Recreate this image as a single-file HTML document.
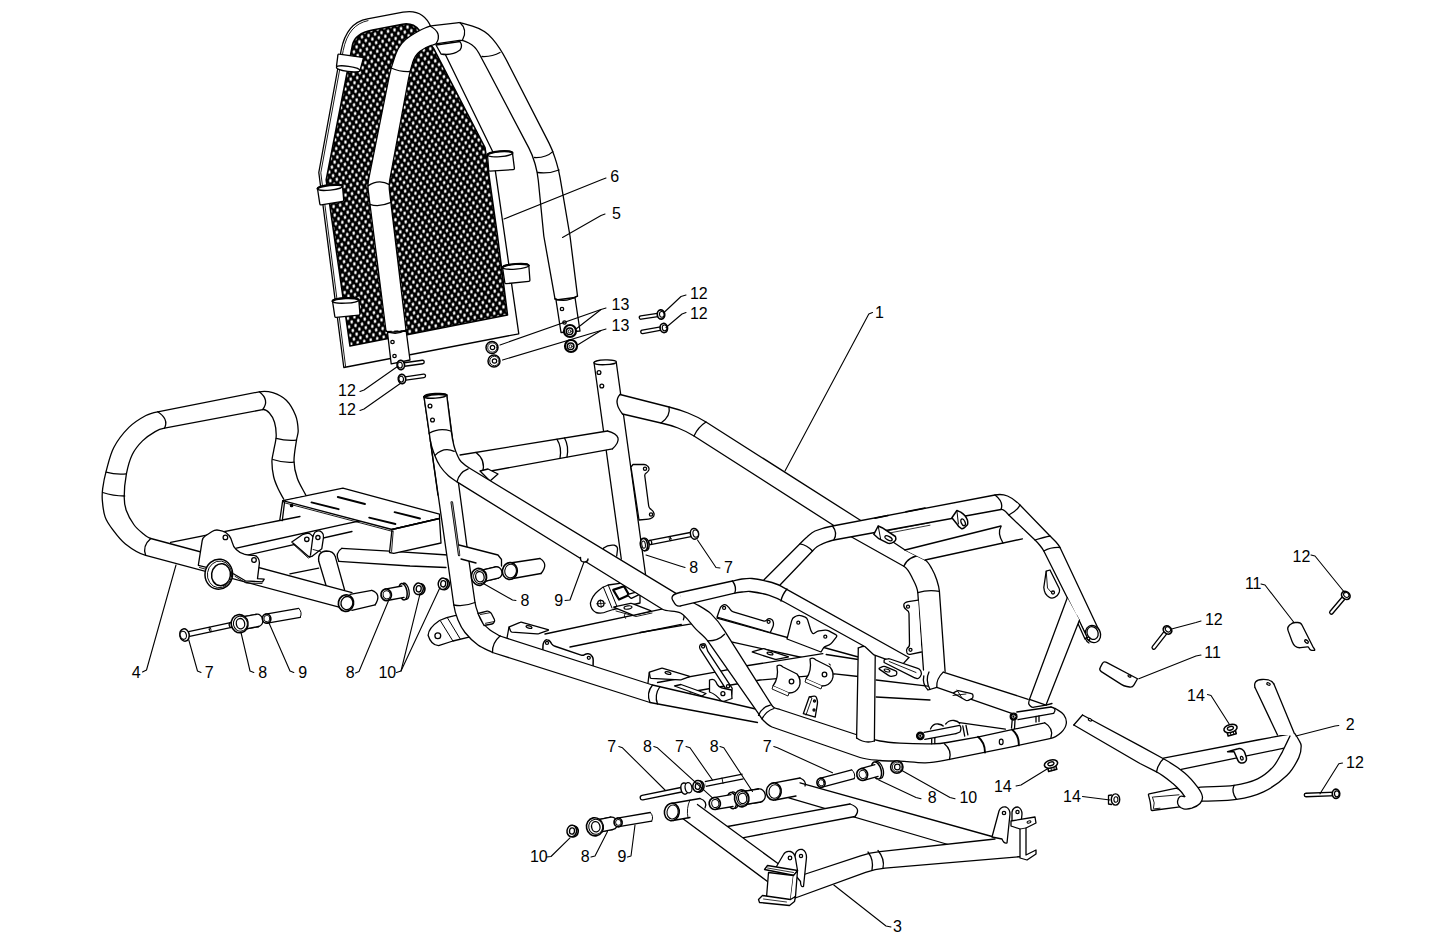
<!DOCTYPE html>
<html><head><meta charset="utf-8"><title>Frame assembly</title>
<style>html,body{margin:0;padding:0;background:#fff;font-family:"Liberation Sans",sans-serif}svg{display:block}</style>
</head><body>
<svg width="1445" height="945" viewBox="0 0 1445 945" stroke="#000" stroke-linecap="round" stroke-linejoin="round">
<defs>
<pattern id="mesh" width="1" height="1" patternUnits="userSpaceOnUse" patternTransform="matrix(3.8 3.6 2.7 -5 0 0)"><rect x="-0.1" y="-0.1" width="1.2" height="1.2" fill="#000" stroke="none"/><circle cx="0.5" cy="0.5" r="0.28" fill="#fff" stroke="none"/></pattern>
</defs>
<rect x="0" y="0" width="1445" height="945" fill="#fff" stroke="none"/>
<g id="rear">
<path d="M246.4,555.3L352,531.5" fill="none" stroke-width="1.3" />
<path d="M289.9,573.8L318.7,568.2" fill="none" stroke-width="1.3" />
<path d="M170.6,542.4L279.7,520.5L300,516.5 L392,514L340,525.2L236.5,548.1 Z" fill="#fff" stroke="none"/>
<path d="M170.6,542.4L279.7,520.5L300,516.5" fill="none" stroke-width="1.3"/>
<path d="M236.5,548.1L340,525.2L392,514" fill="none" stroke-width="1.3"/>
<path d="M341.9,548.3L389.5,551.1L448,555 L446,567.5L410,566L338.8,561.3 Z" fill="#fff" stroke="none"/>
<path d="M341.9,548.3L389.5,551.1L448,555" fill="none" stroke-width="1.3"/>
<path d="M338.8,561.3L410,566L446,567.5" fill="none" stroke-width="1.3"/>
<path d="M341.9,548.3Q334.5,553 338.8,561.3" fill="#fff" stroke-width="1.3" />
<path d="M318.7,561L326.5,587 L344.6,590L335.3,556.6 Z" fill="#fff" stroke="none"/>
<path d="M318.7,561L326.5,587" fill="none" stroke-width="1.3"/>
<path d="M335.3,556.6L344.6,590" fill="none" stroke-width="1.3"/>
<path d="M318.7,561Q317.5,551.5 326.5,551Q333.5,551 335.3,556.6" fill="#fff" stroke-width="1.3" />
<path d="M282.7,500.7L342.9,488.2L439.5,514.2L439.5,518.5L392,529.5L282.7,500.7Z" fill="#fff" stroke-width="1.3" />
<path d="M282.7,500.7L279.8,520L282.3,520.6L284.5,502.5L282.7,500.7Z" fill="#fff" stroke-width="1.3" />
<circle cx="291.6" cy="505.5" r="1.2" fill="#000" stroke-width="1.3"/>
<path d="M392,529.5L389.5,552.5L393.8,553.3L441,543L439.5,518.5L392,529.5Z" fill="#fff" stroke-width="1.3" />
<path d="M392,529.5L439.5,518.5" fill="none" stroke-width="1.3" />
<path d="M393.2,531L391.6,551.5" fill="none" stroke-width="0.9" />
<path d="M284.5,502.8L392.5,531.4" fill="none" stroke-width="0.9" />
<path d="M337.8,497L365,504" fill="none" stroke-width="1.9" />
<path d="M311.5,502.4L338.6,509.2" fill="none" stroke-width="1.9" />
<path d="M394.6,512.2L420,518.5" fill="none" stroke-width="1.9" />
<path d="M369.2,517.6L395.4,524" fill="none" stroke-width="1.9" />
<path d="M340,607.4L145.7,555.4C138.2,553.4 131.5,548.8 125.4,544C120.4,540.1 116.5,534.7 112.7,529.6C109.7,525.7 106.7,521.6 105.1,516.9C103.2,511.5 102.8,505.7 102.3,500C102,496.1 102.2,492.2 102.7,488.3C103.5,482.6 104.6,476.9 106.1,471.4C108.3,463.4 109.9,455.1 113.7,447.7C117.6,440.2 122.9,433.4 128.9,427.4C133.8,422.5 139.8,418.8 145.9,415.5C149.5,413.5 153.7,412.6 157.7,411.8L259.3,391.8C263.7,390.9 268.5,391.3 272.8,392.7C277.7,394.3 282.6,396.6 286.3,400.3C290.5,404.5 293.4,410 295.6,415.5C297.5,420.3 298,425.6 298.2,430.8C298.3,433.9 296.9,437 296.5,440.1C295.5,447.1 293.9,454.1 294,461.2C294.1,467 295.4,472.7 297.3,478.2C299.4,484.2 303,489.5 305.8,495.1 L283.8,499.3C281.8,495.6 279.6,492.1 277.9,488.3C276.2,484.5 274.5,480.6 273.6,476.5C272.5,471.5 271.9,466.3 271.9,461.2C271.9,457.8 273,454.5 273.6,451.1C274.5,446 276,441 276.2,435.9C276.3,431.3 275.8,426.7 274.5,422.3C273.5,418.9 271.8,415.6 269.4,413C267.7,411.2 265.1,409.1 262.6,409.6L164.5,428.2C161.3,428.8 158.1,429.9 155.2,431.6C150.7,434.2 146.2,437.2 142.5,440.9C138.5,444.9 134.8,449.4 132.3,454.5C129.3,460.6 127.7,467.3 126.4,473.9C125,481.5 124.2,489.3 124.2,497C124.2,501.5 124.7,506 126.2,510.2C128,515.3 130.7,520.1 133.8,524.5C136.1,527.8 139.2,530.5 142.3,533C144.9,535.1 147.5,537.6 150.8,538.5L352,592.6 Z" fill="#fff" stroke="none"/>
<path d="M340,607.4L145.7,555.4C138.2,553.4 131.5,548.8 125.4,544C120.4,540.1 116.5,534.7 112.7,529.6C109.7,525.7 106.7,521.6 105.1,516.9C103.2,511.5 102.8,505.7 102.3,500C102,496.1 102.2,492.2 102.7,488.3C103.5,482.6 104.6,476.9 106.1,471.4C108.3,463.4 109.9,455.1 113.7,447.7C117.6,440.2 122.9,433.4 128.9,427.4C133.8,422.5 139.8,418.8 145.9,415.5C149.5,413.5 153.7,412.6 157.7,411.8L259.3,391.8C263.7,390.9 268.5,391.3 272.8,392.7C277.7,394.3 282.6,396.6 286.3,400.3C290.5,404.5 293.4,410 295.6,415.5C297.5,420.3 298,425.6 298.2,430.8C298.3,433.9 296.9,437 296.5,440.1C295.5,447.1 293.9,454.1 294,461.2C294.1,467 295.4,472.7 297.3,478.2C299.4,484.2 303,489.5 305.8,495.1" fill="none" stroke-width="1.3"/>
<path d="M352,592.6L150.8,538.5C147.5,537.6 144.9,535.1 142.3,533C139.2,530.5 136.1,527.8 133.8,524.5C130.7,520.1 128,515.3 126.2,510.2C124.7,506 124.2,501.5 124.2,497C124.2,489.3 125,481.5 126.4,473.9C127.7,467.3 129.3,460.6 132.3,454.5C134.8,449.4 138.5,444.9 142.5,440.9C146.2,437.2 150.7,434.2 155.2,431.6C158.1,429.9 161.3,428.8 164.5,428.2L262.6,409.6C265.1,409.1 267.7,411.2 269.4,413C271.8,415.6 273.5,418.9 274.5,422.3C275.8,426.7 276.3,431.3 276.2,435.9C276,441 274.5,446 273.6,451.1C273,454.5 271.9,457.8 271.9,461.2C271.9,466.3 272.5,471.5 273.6,476.5C274.5,480.6 276.2,484.5 277.9,488.3C279.6,492.1 281.8,495.6 283.8,499.3" fill="none" stroke-width="1.3"/>
<path d="M102.7,492.5Q113,496 124.7,496" fill="none" stroke-width="1.3" />
<path d="M106.1,472.2Q116,475 126.4,473.9" fill="none" stroke-width="1.3" />
<path d="M157.7,411.8Q169,419 164.5,428.2" fill="none" stroke-width="1.3" />
<path d="M259.3,391.8Q270,400 262.6,409.6" fill="none" stroke-width="1.3" />
<path d="M276.2,438.4Q286,441 296.5,440.1" fill="none" stroke-width="1.3" />
<path d="M272.8,459.5Q283,463 294,462.1" fill="none" stroke-width="1.3" />
<path d="M150.8,538.5Q142,546 145.7,555.4" fill="none" stroke-width="1.3" />
<path d="M350,594.3L371.8,590.4 L375.1,604.8L351.9,610.3 Z" fill="#fff" stroke="none"/>
<path d="M350,594.3L371.8,590.4" fill="none" stroke-width="1.3"/>
<path d="M351.9,610.3L375.1,604.8" fill="none" stroke-width="1.3"/>
<path d="M371.8,590.4Q382,594 375.1,604.8" fill="#fff" stroke-width="1.3" />
<ellipse cx="346" cy="603.1" rx="7.6" ry="8.3" fill="#fff" stroke-width="1.7" transform="rotate(12 346 603.1)"/>
<ellipse cx="346.9" cy="603.1" rx="5.9" ry="6.6" fill="#fff" stroke-width="1.3" transform="rotate(12 346.9 603.1)"/>
<path d="M198.3,565.3L202.2,540.6Q202.7,537.6 205.2,536L212.1,531.5Q215.4,529.3 219.3,530.3L222.6,531.1Q226.5,532.1 228.9,535.3L229.1,535.5Q231.5,538.7 232.3,542.6L232.3,542.6Q233.2,546.5 236,549.3L236.5,549.8Q239.8,553.1 244.2,554.2L244.8,554.3Q248.7,555.3 252.5,555.3L253.4,555.3Q256.4,555.3 257.9,557.9L258.2,558.3Q259.7,560.9 259.3,563.9L257.5,578.6L264.2,579.1L262.5,581.9L245.3,580.8L234.3,574.2L198.3,565.3Z" fill="#fff" stroke-width="1.3" />
<path d="M199.5,567.5L212,571" fill="none" stroke-width="0.9" />
<path d="M235,576.3L246,583L262,583.5" fill="none" stroke-width="0.9" />
<circle cx="225.4" cy="537.4" r="2.3" fill="#fff" stroke-width="1.3"/>
<circle cx="254" cy="560" r="2.3" fill="#fff" stroke-width="1.3"/>
<ellipse cx="218.8" cy="574.2" rx="13.8" ry="15" fill="#fff" stroke-width="1.5" transform="rotate(8 218.8 574.2)"/>
<ellipse cx="219.6" cy="574.4" rx="12.2" ry="13.4" fill="#fff" stroke-width="0.9" transform="rotate(8 219.6 574.4)"/>
<ellipse cx="221" cy="574.7" rx="9.4" ry="11" fill="#fff" stroke-width="1.5" transform="rotate(8 221 574.7)"/>
<path d="M291.8,542L302.3,534.8Q304,533.7 306,533.5L307.6,533.4Q309.6,533.2 311,534.6L312.9,536.5L313.9,534Q314.6,532.1 316.5,531.4L317.1,531.2Q319.5,530.4 321.8,532.3L321.8,532.3Q324,534.3 323.5,537.3L321.8,548.7L311.8,556.4L308.5,556.4L291.8,542Z" fill="#fff" stroke-width="1.3" />
<path d="M312.9,536.5L310.5,555" fill="none" stroke-width="1.3" />
<path d="M293,544L308.3,558L312,556.4" fill="none" stroke-width="0.9" />
<path d="M313,549.5L320.5,551.5" fill="none" stroke-width="0.9" />
<circle cx="306.8" cy="539.3" r="2.2" fill="#fff" stroke-width="1.3"/>
<circle cx="317.9" cy="537.6" r="2.1" fill="#fff" stroke-width="1.3"/>
</g>
<g id="frame">
<path d="M594,362.5L621.3,559 L645.6,575L616.3,362.5 Z" fill="#fff" stroke="none"/>
<path d="M594,362.5L621.3,559" fill="none" stroke-width="1.3"/>
<path d="M616.3,362.5L645.6,575" fill="none" stroke-width="1.3"/>
<ellipse cx="605.2" cy="362.3" rx="11.2" ry="2.4" fill="#fff" stroke-width="1.3" transform="rotate(-2 605.2 362.3)"/>
<circle cx="599" cy="372.5" r="1.9" fill="#fff" stroke-width="1.3"/>
<circle cx="601.8" cy="386" r="1.9" fill="#fff" stroke-width="1.3"/>
<path d="M631,467L633,464.5L644,464.5Q646,464.5 647.4,465.9L647.8,466.2Q649.5,468 648.8,470L648.7,470.1Q648,472 646.3,473L646.2,473Q644.5,474 644.8,476L648.7,506Q649,508 650.7,509.1L651.2,509.5Q653.5,511 654,513.5L654,513.5Q654.5,516 652.5,517.5L652.1,517.8Q650.5,519 648.5,519.2L639,520L631,467Z" fill="#fff" stroke-width="1.3" />
<circle cx="645" cy="468.8" r="1.6" fill="#fff" stroke-width="1.3"/>
<circle cx="651" cy="514.5" r="1.6" fill="#fff" stroke-width="1.3"/>
<path d="M620,394.5L669,407C675.4,408.6 681.8,410.5 688,413C694.2,415.5 700.3,418.4 706,422L860,520L905,550L925,560C928.4,561.7 930.1,565.7 932,569C934,572.4 935.5,576.2 936.8,580C938,583.7 939.1,587.5 939.4,591.4L945.1,671.4 L923.5,670L917.8,592.7C917.5,588.2 915.4,584 913.3,580C910.7,575.1 908.7,568.9 903.8,566.2L852.5,537.5L694,436C689,432.8 683.5,430.2 678,428C672.5,425.8 666.8,424.3 661,423L622.5,414 Z" fill="#fff" stroke="none"/>
<path d="M620,394.5L669,407C675.4,408.6 681.8,410.5 688,413C694.2,415.5 700.3,418.4 706,422L860,520L905,550L925,560C928.4,561.7 930.1,565.7 932,569C934,572.4 935.5,576.2 936.8,580C938,583.7 939.1,587.5 939.4,591.4L945.1,671.4" fill="none" stroke-width="1.3"/>
<path d="M622.5,414L661,423C666.8,424.3 672.5,425.8 678,428C683.5,430.2 689,432.8 694,436L852.5,537.5L903.8,566.2C908.7,568.9 910.7,575.1 913.3,580C915.4,584 917.5,588.2 917.8,592.7L923.5,670" fill="none" stroke-width="1.3"/>
<path d="M620.9,396.2L623.3,412.6" stroke="#fff" stroke-width="2.6" fill="none" stroke-linecap="butt"/>
<path d="M620,394.5Q613,402 622.5,414" fill="#fff" stroke-width="1.3" />
<path d="M669,407Q671,416 661,423" fill="none" stroke-width="1.3" />
<path d="M706,422Q698,427 694,436" fill="none" stroke-width="1.3" />
<path d="M903.8,566.2Q908,556 923,555" fill="none" stroke-width="1.3" />
<path d="M917.8,592.7Q928,589.5 939.4,591.4" fill="none" stroke-width="1.3" />
<path d="M905,550L1001,526 L1022.5,538.8L925,560 Z" fill="#fff" stroke="none"/>
<path d="M905,550L1001,526" fill="none" stroke-width="1.3"/>
<path d="M925,560L1022.5,538.8" fill="none" stroke-width="1.3"/>
<path d="M1001,526.5Q997,533 1003,543" fill="none" stroke-width="1.3" />
<path d="M763.8,580L800,543.8C802.3,541.5 804.5,539.1 807,537C809.5,534.8 811.9,532.3 815,531C820.6,528.6 826.5,527.1 832.5,526L995,495C999.1,494.2 1003.6,494.4 1007.5,496C1012.3,497.9 1016.4,501.3 1020,505L1050,536C1052,538 1054.1,539.9 1056,542C1057.5,543.7 1059,545.4 1060,547.5L1100,632.5 L1085.5,634L1043.8,551C1042.8,549 1041.4,547.2 1040,545.5C1038.5,543.6 1036.8,541.7 1035,540L1008.8,515C1006.5,512.8 1004.1,508.9 1001,509.5L833.8,540C829.9,540.7 826.2,542.3 822.5,543.8C820.6,544.6 818.7,545.6 817,546.8C815.3,548 813.9,549.5 812.5,551L780,585 Z" fill="#fff" stroke="none"/>
<path d="M763.8,580L800,543.8C802.3,541.5 804.5,539.1 807,537C809.5,534.8 811.9,532.3 815,531C820.6,528.6 826.5,527.1 832.5,526L995,495C999.1,494.2 1003.6,494.4 1007.5,496C1012.3,497.9 1016.4,501.3 1020,505L1050,536C1052,538 1054.1,539.9 1056,542C1057.5,543.7 1059,545.4 1060,547.5L1100,632.5" fill="none" stroke-width="1.3"/>
<path d="M780,585L812.5,551C813.9,549.5 815.3,548 817,546.8C818.7,545.6 820.6,544.6 822.5,543.8C826.2,542.3 829.9,540.7 833.8,540L1001,509.5C1004.1,508.9 1006.5,512.8 1008.8,515L1035,540C1036.8,541.7 1038.5,543.6 1040,545.5C1041.4,547.2 1042.8,549 1043.8,551L1085.5,634" fill="none" stroke-width="1.3"/>
<path d="M800,543.8Q807,545 812.5,551" fill="none" stroke-width="1.3" />
<path d="M832.5,526Q838,533 833.8,540" fill="none" stroke-width="1.3" />
<path d="M995,495Q1004,502 1001,509.5" fill="none" stroke-width="1.3" />
<path d="M1020,505Q1017,511 1008.8,515" fill="none" stroke-width="1.3" />
<path d="M1050,536Q1045,537 1035,540" fill="none" stroke-width="1.3" />
<path d="M1060,547.5Q1051,547 1043.8,551" fill="none" stroke-width="1.3" />
<ellipse cx="1093" cy="634" rx="7.4" ry="8.8" fill="#fff" stroke-width="1.3" transform="rotate(-25 1093 634)"/>
<ellipse cx="1092.6" cy="633" rx="5.4" ry="6.6" fill="#fff" stroke-width="1.3" transform="rotate(-25 1092.6 633)"/>
<path d="M1085.5,634Q1084,640 1089,643" fill="none" stroke-width="1.3" />
<circle cx="1088.5" cy="638.5" r="1.4" fill="#fff" stroke-width="1.3"/>
<path d="M1075,617L1077,616L1087,637L1085,639L1075,617Z" fill="#fff" stroke-width="1.3" />
<g transform="translate(878.2 526)">
<path d="M-4.4,8.3L0,0L3.9,1.7L17.2,10.5Q18.5,14 16.1,15.5Q12,18.5 9.5,17.2L0.6,12.7Z" fill="#fff" stroke-width="1.5" />
<path d="M0,0L2.5,13.5" fill="none" stroke-width="1" />
<ellipse cx="10.3" cy="12.3" rx="4" ry="1.8" fill="#fff" stroke-width="1.3" transform="rotate(27 10.3 12.3)"/>
</g>
<g transform="translate(956.9 510.5)">
<path d="M-5,7.2L0,0L3.8,1.6Q9,5 10.5,9.4Q11.5,14 9.9,14.9Q7,18.5 4.9,18.3Q1,16 -0.6,12.7Z" fill="#fff" stroke-width="1.5" />
<path d="M0,0L1.5,13.5" fill="none" stroke-width="1" />
<ellipse cx="6.2" cy="11.8" rx="1.9" ry="3.6" fill="#fff" stroke-width="1.3" transform="rotate(-25 6.2 11.8)"/>
</g>
<path d="M888.8,530.4L929.7,522.7M890.5,532.8L930,525.2" fill="none" stroke-width="0.8" />
<path d="M875,518.3L888,515.5M906,511.8L925,508" fill="none" stroke-width="1.6" />
<path d="M1046.2,571.2L1050,570L1059.1,588.2Q1060,590 1059.3,591.9L1058.6,593.4Q1057.5,596.2 1054.7,597.3L1054,597.7Q1051.2,598.8 1048.9,596.9L1047.3,595.7Q1045,593.8 1044.4,590.9L1043.8,587.5L1046.2,571.2Z" fill="#fff" stroke-width="1.3" />
<path d="M1046.2,571.2L1047.5,588L1051,592" fill="none" stroke-width="0.9" />
<circle cx="1053" cy="592.5" r="1.5" fill="#fff" stroke-width="1.3"/>
<path d="M1067.3,597.7L1029.5,699.3 L1046,705.1L1079.5,620 Z" fill="#fff" stroke="none"/>
<path d="M1067.3,597.7L1029.5,699.3" fill="none" stroke-width="1.3"/>
<path d="M1079.5,620L1046,705.1" fill="none" stroke-width="1.3"/>
<path d="M1029.5,699.3L1028.8,701.9Q1028.2,703.8 1029.6,705.2L1030.6,706.2Q1032,707.6 1034,707.2L1046,705.1L1029.5,699.3Z" fill="#fff" stroke-width="1.3" />
<path d="M460,455L607.5,431 L612.5,448.8L482.5,472.5 Z" fill="#fff" stroke="none"/>
<path d="M460,455L607.5,431" fill="none" stroke-width="1.3"/>
<path d="M482.5,472.5L612.5,448.8" fill="none" stroke-width="1.3"/>
<path d="M607.5,431Q626,436 612.5,448.8" fill="#fff" stroke-width="1.3" />
<path d="M557,439.3Q562,447 560,458.3" fill="none" stroke-width="1.3" />
<path d="M564.5,438Q569,446 567,457" fill="none" stroke-width="1.3" />
<path d="M476,452.5Q486,460 482.5,472.5" fill="none" stroke-width="1.3" />
<path d="M480,471L488,469L498,474L490,481L480,471Z" fill="#fff" stroke-width="1.3" />
<path d="M717,618.1L858.3,657 L858,672L811,659.5L731.4,641.8 Z" fill="#fff" stroke="none"/>
<path d="M717,618.1L858.3,657" fill="none" stroke-width="1.3"/>
<path d="M731.4,641.8L811,659.5L858,672" fill="none" stroke-width="1.3"/>
<path d="M545,634L666.4,608.2L690,603.2 L681.3,624.4L570,647 Z" fill="#fff" stroke="none"/>
<path d="M545,634L666.4,608.2L690,603.2" fill="none" stroke-width="1.3"/>
<path d="M570,647L681.3,624.4" fill="none" stroke-width="1.3"/>
<path d="M679.7,609.9Q686,614 683.4,619.8" fill="none" stroke-width="1.3" />
<path d="M657.5,682.5L719.5,671.4L748.3,665.5L822.8,653.6 L834.6,673.9L760,680L690,692 Z" fill="#fff" stroke="none"/>
<path d="M657.5,682.5L719.5,671.4L748.3,665.5L822.8,653.6" fill="none" stroke-width="1.3"/>
<path d="M690,692L760,680L834.6,673.9" fill="none" stroke-width="1.3"/>
<path d="M826.2,654.5L858.3,659.5 L858.3,676.5L834.6,673.9 Z" fill="#fff" stroke="none"/>
<path d="M826.2,654.5L858.3,659.5" fill="none" stroke-width="1.3"/>
<path d="M834.6,673.9L858.3,676.5" fill="none" stroke-width="1.3"/>
<path d="M876.2,680L927.5,686.2 L930,700L876.2,697 Z" fill="#fff" stroke="none"/>
<path d="M876.2,680L927.5,686.2" fill="none" stroke-width="1.3"/>
<path d="M876.2,697L930,700" fill="none" stroke-width="1.3"/>
<path d="M640,632.5L695.9,623.2" fill="none" stroke-width="1.3" />
<path d="M650.2,671.9L661.1,668.3Q662,668 663,668.3L688.9,676.2Q689.9,676.5 689,676.8L681.5,679.6Q680.6,679.9 679.6,679.8L651.2,678.3Q650.2,678.2 650.1,677.2L649.4,673.2Q649.3,672.2 650.2,671.9Z" fill="#fff" stroke-width="1.3" />
<path d="M649.3,672.2L648,683" fill="none" stroke-width="1.3" />
<ellipse cx="668" cy="673" rx="3" ry="1.2" fill="#fff" stroke-width="1.3" transform="rotate(15 668 673)"/>
<path d="M752.7,651.6L762.6,648.8Q763.6,648.5 764.5,648.8L788,656.7Q788.9,657 787.9,657.2L776.4,659.3Q775.4,659.5 774.4,659.2L752.7,652.2Q751.7,651.9 752.7,651.6Z" fill="#fff" stroke-width="1.3" />
<ellipse cx="770" cy="653.5" rx="3" ry="1.2" fill="#fff" stroke-width="1.3" transform="rotate(15 770 653.5)"/>
<path d="M509.9,626.6L520.1,622.4Q521,622 522,622.3L548,629.7Q549,630 548.1,630.3L538.9,633.7Q538,634 537,633.9L512,632.1Q511,632 510.6,631.1L509.4,627.9Q509,627 509.9,626.6Z" fill="#fff" stroke-width="1.3" />
<path d="M509,627L507,638" fill="none" stroke-width="1.3" />
<ellipse cx="529" cy="627" rx="3" ry="1.2" fill="#fff" stroke-width="1.3" transform="rotate(15 529 627)"/>
<path d="M717,617.2L719.8,609Q720.4,607.1 722,605.8L722.5,605.4Q724.6,603.7 726.8,605.4L727.3,605.9Q728.9,607.1 729.9,608.8L730.4,609.6Q731.4,611.3 733.3,611.9L763.3,620.9Q765.2,621.5 766.6,620.1L767.2,619.5Q768.6,618.1 770.5,618.8L771,619.1Q772.9,619.8 773.2,621.8L773.4,622.9Q773.7,624.9 772.9,626.7L770.3,632.5L717,617.2Z" fill="#fff" stroke-width="1.3" />
<circle cx="724.1" cy="607.9" r="1.5" fill="#fff" stroke-width="1.3"/>
<circle cx="768.6" cy="621.8" r="1.5" fill="#fff" stroke-width="1.3"/>
<path d="M787,639L791.6,620.9Q792.3,618 795,616.7L796.3,616Q799,614.7 801.8,615.8L805.2,617.2Q807,618 807.6,619.9L810.7,630Q811,631 811.6,631.8L812.4,633.2Q813,634 813.9,633.5L817.1,631.5Q818,631 819,630.9L825,630.2Q827,630 828.8,630.9L835.7,634.6Q837.5,635.5 836.3,637.1L832.2,642.4Q831,644 829.2,644.8L824.9,646.6Q824,647 823.5,647.9L821,652L787,639Z" fill="#fff" stroke-width="1.3" />
<circle cx="798.3" cy="622.7" r="1.5" fill="#fff" stroke-width="1.3"/>
<circle cx="825.3" cy="636.7" r="1.5" fill="#fff" stroke-width="1.3"/>
<g transform="translate(810 659)">
<path d="M0,0Q3,-2 6,1L20,8Q25,14 22,21Q19,27 12,27L-4,20Q2,12 0,0Z" fill="#fff" stroke-width="1.3" />
<path d="M-4,20L-5,23L11,30L12,27" fill="#fff" stroke-width="0.9" />
<circle cx="14.5" cy="15.5" r="2.3" fill="#fff" stroke-width="1.3"/>
</g>
<g transform="translate(777 666)">
<path d="M0,0Q3,-2 6,1L20,8Q25,14 22,21Q19,27 12,27L-4,20Q2,12 0,0Z" fill="#fff" stroke-width="1.3" />
<path d="M-4,20L-5,23L11,30L12,27" fill="#fff" stroke-width="0.9" />
<circle cx="14.5" cy="15.5" r="2.3" fill="#fff" stroke-width="1.3"/>
</g>
<path d="M803.3,713.7L809.3,696.8L814,696.2Q816,695.9 816.5,697.8L817.2,700Q817.7,701.9 817.4,703.9L815.2,717.1L803.3,713.7Z" fill="#fff" stroke-width="1.3" />
<circle cx="814.5" cy="701" r="1" fill="#fff" stroke-width="1.3"/>
<circle cx="814" cy="710" r="1" fill="#fff" stroke-width="1.3"/>
<path d="M809.3,696.8L812,698L806,715" fill="none" stroke-width="0.9" />
<path d="M542.8,650.7L543,645.2Q543.1,643.2 544.2,641.6L544.5,641.2Q545.6,639.6 547.2,639.8L547.2,639.8Q548.9,639.9 550.1,641.5L551.9,644.1Q553.1,645.7 555,646.3L581.1,655.1Q583,655.7 584.6,654.6L584.6,654.6Q586.3,653.5 588.3,653.7L588.5,653.8Q590.5,654 591.6,655.7L592.2,656.5Q593.3,658.2 593.2,660.2L593,669L542.8,650.7Z" fill="#fff" stroke-width="1.5" />
<circle cx="547" cy="642.9" r="1.5" fill="#fff" stroke-width="1.3"/>
<circle cx="588.8" cy="657.8" r="1.5" fill="#fff" stroke-width="1.3"/>
<path d="M623.2,582.9L608.2,585Q603,586.5 598,591Q592,596 590.4,603.2Q590.5,609.5 596,612.5Q601.6,614 607,611.5L613.2,609.5L640,603L640,585Z" fill="#fff" stroke-width="1.3" />
<circle cx="600.8" cy="603.6" r="3.2" fill="#fff" stroke-width="1.3"/>
<path d="M596.5,603.8L605.5,603.2M600.3,599.8L601.3,607.3" fill="none" stroke-width="0.8" />
<path d="M603.3,587L612,608" fill="none" stroke-width="1" />
<path d="M608.2,585L617,606.5" fill="none" stroke-width="1" />
<path d="M613.2,589.9L624,586.2L629,594.9L619,599.5L613.2,589.9Z" fill="#fff" stroke-width="2.2" />
<path d="M628,594.3L636,592.2Q637,592 637.7,592.7L638.8,593.8Q639.5,594.5 638.6,594.9L631.9,598.1Q631,598.5 630.3,597.8L627.7,595.2Q627,594.5 628,594.3Z" fill="#fff" stroke-width="1.3" />
<path d="M614.2,606.8L630.5,603.4Q631.5,603.2 632.4,603.6L650.5,610.7Q651.4,611.1 650.4,611.3L634.2,615.1Q633.2,615.3 632.3,614.9L614.1,607.4Q613.2,607 614.2,606.8Z" fill="#fff" stroke-width="1.3" />
<ellipse cx="628" cy="607.5" rx="4" ry="1.6" fill="#fff" stroke-width="1.2" transform="rotate(-8 628 607.5)"/>
<path d="M616,611L636,616.5L652,613" fill="none" stroke-width="0.9" />
<path d="M625,613.5Q623,616 625.5,618.5" fill="none" stroke-width="0.9" />
<path d="M702.1,644L703.2,643.8Q705.2,643.5 705.8,645.4L707.7,651.1L732.2,688.3L731.6,694.8Q731.4,696.8 729.7,696L728,695.1L725.5,688.3L702.6,652.8L700.3,649.4Q699.2,647.7 699.7,646L699.7,646Q700.1,644.3 702.1,644Z" fill="#fff" stroke-width="1.3" />
<circle cx="703.1" cy="646.5" r="1.5" fill="#fff" stroke-width="1.3"/>
<circle cx="728" cy="686.3" r="1.6" fill="#fff" stroke-width="1.3"/>
<path d="M674.5,686L681,684.5L706,693.5L702,696Z" fill="#fff" stroke-width="1.3" />
<path d="M709.5,680Q714,678 716,682Q718,688 724.5,688.5L731.5,690L732,698.5L722,702Q716,694 709.5,692Z" fill="#fff" stroke-width="1.3" />
<circle cx="722.9" cy="693.7" r="2" fill="#fff" stroke-width="1.3"/>
<path d="M500,636L652.5,685L760,710 L757.5,722.5L650,702.5L492.5,652.5 Z" fill="#fff" stroke="none"/>
<path d="M500,636L652.5,685L760,710" fill="none" stroke-width="1.3"/>
<path d="M492.5,652.5L650,702.5L757.5,722.5" fill="none" stroke-width="1.3"/>
<path d="M652.5,685Q646,693 650,702.5" fill="none" stroke-width="1.3" />
<path d="M660,686.5Q654,695 657.5,704" fill="none" stroke-width="1.3" />
<path d="M469,637.1L452.9,641L438.6,645.7Q431,645 428.1,635.2Q428.5,628 439.5,620.5Q446.2,617.1 454.8,615.7L470,614Z" fill="#fff" stroke-width="1.3" />
<circle cx="437.8" cy="635.7" r="2.9" fill="#fff" stroke-width="1.3"/>
<path d="M440.5,621L452.9,641" fill="none" stroke-width="1" />
<path d="M447.6,618.1L460,638.6" fill="none" stroke-width="1" />
<path d="M424,396.6L447.5,560L453.8,605C454.5,610.1 456,615.2 458,620C459.8,624.4 462,628.8 465,632.5C468.8,637.2 473.1,641.5 478,645C482.4,648.2 487.7,650 492.5,652.5 L500,636C496.7,634 493.1,632.4 490,630C487.2,627.8 484.5,625.4 482.5,622.5C480.5,619.6 479.2,616.3 478,613C476.7,609.6 475.5,606.1 475,602.5L468.8,560L446.7,394.9 Z" fill="#fff" stroke="none"/>
<path d="M424,396.6L447.5,560L453.8,605C454.5,610.1 456,615.2 458,620C459.8,624.4 462,628.8 465,632.5C468.8,637.2 473.1,641.5 478,645C482.4,648.2 487.7,650 492.5,652.5" fill="none" stroke-width="1.3"/>
<path d="M446.7,394.9L468.8,560L475,602.5C475.5,606.1 476.7,609.6 478,613C479.2,616.3 480.5,619.6 482.5,622.5C484.5,625.4 487.2,627.8 490,630C493.1,632.4 496.7,634 500,636" fill="none" stroke-width="1.3"/>
<path d="M453.8,605Q464,607 475,602.5" fill="none" stroke-width="1.3" />
<path d="M492.5,652.5Q492,643 500,636" fill="none" stroke-width="1.3" />
<path d="M478,613.5L487.1,611.2Q488.1,611 488.9,611.5L490.2,612.4Q491,612.9 491.5,613.8L494.3,619.2Q495.2,621 494,622.4L493.5,623Q492.9,623.8 491.9,624L484,625.5L478,613.5Z" fill="#fff" stroke-width="1.3" />
<path d="M480.5,614.5L489.5,612.8" fill="none" stroke-width="0.9" />
<path d="M485.5,623.3L494.5,621.5" fill="none" stroke-width="0.9" />
<path d="M451.8,502.5L459.2,555" fill="none" stroke-width="2.6" />
<path d="M451.8,502.5L459.2,555" stroke="#fff" stroke-width="0.6" fill="none"/>
<path d="M603.2,549.5L603.6,548Q608,544.5 614.2,545.2Q618,546.5 617.5,549.5L616.7,556" fill="#fff" stroke-width="1.3" />
<path d="M446.7,394.9L451.3,431.6C451.9,436.4 452.8,441.3 454,446C454.9,449.4 456.2,452.8 457.7,456C458.6,458.1 459.6,460.2 461.2,461.8C463.9,464.5 467.2,466.8 470.5,468.8L678,594.6C684.6,598.6 691.8,601.5 698.4,605.4C702.8,608 707.4,610.4 711.1,613.9C716.3,618.9 720.7,624.7 724.6,630.8L771.2,704.4C771.9,705.6 772.8,706.8 774,707.5C775.8,708.6 778,708.8 780,709.5L857.5,735C864.9,737.4 872.4,739.5 880,741C886.6,742.3 893.3,742.7 900,743.1C910.6,743.7 921.1,743.9 931.7,743.8C936.8,743.7 942,743.4 947,742.5L978.7,736.8L1014.2,729.2L1044.7,722.8 L1054.9,708.2C1057.8,710.3 1061.5,711.7 1063.7,714.6C1065.5,717.1 1066.7,720.4 1066.3,723.5C1065.8,726.9 1063.7,730.1 1061.2,732.4C1058,735.3 1054,737.8 1049.8,738.7L1014.2,746.3L944.4,760.3C938.1,761.6 931.8,762.7 925.4,762.8C916.9,763 908.5,761.6 900,761.2C893.3,760.9 886.6,761.1 880,760.5C873.3,759.9 866.4,759.7 860,757.5L772,727C768.4,725.8 765.7,722.7 763,720C761.2,718.2 760,715.8 758.5,713.7L707.7,640.9C704.5,636.3 699.8,633.1 695.9,629.1C690.7,623.8 687,616.8 680.6,613C675.1,609.8 667.4,612.3 662,609L456.6,481.6C453.8,479.8 450.9,478.1 448.4,475.8C445.4,473 442.6,469.9 440.3,466.5C438.1,463.3 436.4,459.7 435,456C433.1,451.1 431.2,446.1 430.4,440.9L424,396.6 Z" fill="#fff" stroke="none"/>
<path d="M446.7,394.9L451.3,431.6C451.9,436.4 452.8,441.3 454,446C454.9,449.4 456.2,452.8 457.7,456C458.6,458.1 459.6,460.2 461.2,461.8C463.9,464.5 467.2,466.8 470.5,468.8L678,594.6C684.6,598.6 691.8,601.5 698.4,605.4C702.8,608 707.4,610.4 711.1,613.9C716.3,618.9 720.7,624.7 724.6,630.8L771.2,704.4C771.9,705.6 772.8,706.8 774,707.5C775.8,708.6 778,708.8 780,709.5L857.5,735C864.9,737.4 872.4,739.5 880,741C886.6,742.3 893.3,742.7 900,743.1C910.6,743.7 921.1,743.9 931.7,743.8C936.8,743.7 942,743.4 947,742.5L978.7,736.8L1014.2,729.2L1044.7,722.8" fill="none" stroke-width="1.3"/>
<path d="M424,396.6L430.4,440.9C431.2,446.1 433.1,451.1 435,456C436.4,459.7 438.1,463.3 440.3,466.5C442.6,469.9 445.4,473 448.4,475.8C450.9,478.1 453.8,479.8 456.6,481.6L662,609C667.4,612.3 675.1,609.8 680.6,613C687,616.8 690.7,623.8 695.9,629.1C699.8,633.1 704.5,636.3 707.7,640.9L758.5,713.7C760,715.8 761.2,718.2 763,720C765.7,722.7 768.4,725.8 772,727L860,757.5C866.4,759.7 873.3,759.9 880,760.5C886.6,761.1 893.3,760.9 900,761.2C908.5,761.6 916.9,763 925.4,762.8C931.8,762.7 938.1,761.6 944.4,760.3L1014.2,746.3L1049.8,738.7C1054,737.8 1058,735.3 1061.2,732.4C1063.7,730.1 1065.8,726.9 1066.3,723.5C1066.7,720.4 1065.5,717.1 1063.7,714.6C1061.5,711.7 1057.8,710.3 1054.9,708.2" fill="none" stroke-width="1.3"/>
<ellipse cx="435.3" cy="395.8" rx="11.3" ry="2.3" fill="#fff" stroke-width="1.3" transform="rotate(-4 435.3 395.8)"/>
<path d="M424.2,396.8Q435,393 446.6,395" fill="none" stroke-width="2" />
<circle cx="430" cy="406" r="1.9" fill="#fff" stroke-width="1.3"/>
<circle cx="432.5" cy="420" r="1.9" fill="#fff" stroke-width="1.3"/>
<path d="M429.2,433.3Q439.1,427.5 450.7,431" fill="none" stroke-width="1.3" />
<path d="M435,455.4Q443.8,446.5 454.2,451.4" fill="none" stroke-width="1.3" />
<path d="M457.1,481.6Q459,472.5 468.2,468.8" fill="none" stroke-width="1.3" />
<path d="M430.4,440.9L437.9,495" fill="none" stroke-width="1.3" />
<path d="M707.7,640.9Q718,641 724.6,634.2" fill="none" stroke-width="1.3" />
<path d="M758.5,715.4Q762,707 770.3,705.2" fill="none" stroke-width="1.3" />
<path d="M762,719Q766,711 774,708.5" fill="none" stroke-width="1.3" />
<path d="M944.4,743.8Q952,750 949.5,759.5" fill="none" stroke-width="1.3" />
<path d="M978,736.8Q985,742.5 985,752.5" fill="none" stroke-width="1.9" />
<path d="M1012.3,729.8Q1019.5,736 1018.7,745.3" fill="none" stroke-width="1.9" />
<path d="M1044.7,722.8Q1054,728.5 1051,737.6" fill="none" stroke-width="1.3" />
<ellipse cx="1001.2" cy="741.9" rx="1.9" ry="2.7" fill="#fff" stroke-width="1.2" transform="rotate(0 1001.2 741.9)"/>
<path d="M858.3,648L856.6,738 L874.4,741L875.3,648 Z" fill="#fff" stroke="none"/>
<path d="M858.3,648L856.6,738" fill="none" stroke-width="1.3"/>
<path d="M875.3,648L874.4,741" fill="none" stroke-width="1.3"/>
<path d="M858.3,648Q866,644 875.3,648" fill="#fff" stroke-width="1.3" />
<path d="M856.6,738Q865,744 874.4,741" fill="none" stroke-width="1.3" />
<path d="M680,592.5L732.5,581C735.7,580.3 738.8,579.4 742,579C745.3,578.6 748.7,578.2 752,578.5C757.4,579 762.7,580.1 768,581.5C772.3,582.6 776.6,583.7 780.5,585.9L908.9,657.5 L901.9,665.1L874,654.9L865.1,646.7L785.6,602.8C780.2,599.8 774.5,597.1 768.6,595.2C762.6,593.3 756.3,592.3 750,591.5C747.3,591.2 744.7,591.7 742,592C739.6,592.3 737.2,592.6 734.8,593.2L680.6,605.9 Z" fill="#fff" stroke="none"/>
<path d="M680,592.5L732.5,581C735.7,580.3 738.8,579.4 742,579C745.3,578.6 748.7,578.2 752,578.5C757.4,579 762.7,580.1 768,581.5C772.3,582.6 776.6,583.7 780.5,585.9L908.9,657.5" fill="none" stroke-width="1.3"/>
<path d="M680.6,605.9L734.8,593.2C737.2,592.6 739.6,592.3 742,592C744.7,591.7 747.3,591.2 750,591.5C756.3,592.3 762.6,593.3 768.6,595.2C774.5,597.1 780.2,599.8 785.6,602.8L865.1,646.7L874,654.9L901.9,665.1" fill="none" stroke-width="1.3"/>
<path d="M680,592.5Q668.5,595 673.5,601.5Q676,607 680.6,605.9" fill="#fff" stroke-width="1.3" />
<path d="M732.5,581Q737,587 734.8,593.2" fill="none" stroke-width="1.3" />
<path d="M787,589Q782,595 781,601" fill="none" stroke-width="1.3" />
<path d="M908.9,657.5L901.9,665.1" fill="none" stroke-width="1.3" />
<path d="M885.1,659.3L888.2,658.8Q889.2,658.7 890.1,659L917.8,668.3Q919.7,668.9 920.6,670.7L921,671.5Q922.2,674 920.4,676.4L919.6,677.4Q918.4,679 916.5,678.4L915.6,678.1Q914.6,677.8 913.7,677.4L884.1,662.5L884.1,660.4Q884.1,659.4 885.1,659.3Z" fill="#fff" stroke-width="1.3" />
<path d="M889.2,661.5L916,672.5" fill="none" stroke-width="0.9" />
<path d="M918.2,600.2L908.3,601.6Q904,602.5 903.8,604.8Q903.6,608 906.5,609.8Q909,611 909,613.5L909.5,644Q909.6,647 907.3,648.2Q905.8,650 907,653Q908,654.8 910.2,654.3L921.5,652" fill="#fff" stroke-width="1.3" />
<circle cx="908" cy="606.7" r="1.5" fill="#fff" stroke-width="1.3"/>
<circle cx="910.5" cy="649.8" r="1.5" fill="#fff" stroke-width="1.3"/>
<path d="M879.8,667.9L882.6,666.6Q884,666 885.4,666.6L895.6,670.9Q897,671.5 896.8,673L896.7,674Q896.5,675.5 895,675.7L891.5,676.3Q890,676.5 888.8,675.6L879.6,669.4Q878.4,668.5 879.8,667.9Z" fill="#fff" stroke-width="1.3" />
<ellipse cx="887" cy="670.5" rx="3" ry="1.3" fill="#fff" stroke-width="1.1" transform="rotate(15 887 670.5)"/>
<path d="M943.2,672.1L1028.2,699.3 L1011.7,713.3L936.8,687.3 Z" fill="#fff" stroke="none"/>
<path d="M943.2,672.1L1028.2,699.3" fill="none" stroke-width="1.3"/>
<path d="M936.8,687.3L1011.7,713.3" fill="none" stroke-width="1.3"/>
<path d="M923.8,676Q922,684 928,690L936.8,687.3" fill="none" stroke-width="1.3" />
<path d="M929,672Q925,680 930,689.5" fill="none" stroke-width="1.3" />
<path d="M943.2,672.1Q936,679 936.8,687.3" fill="none" stroke-width="1.3" />
<path d="M954.3,692.3L956.7,691.2Q958,690.5 959.5,690.8L971.5,693.7Q973,694 973,695.5L973,696.5Q973,698 971.7,698.7L968.3,700.3Q967,701 965.7,700.3L954.3,693.7Q953,693 954.3,692.3Z" fill="#fff" stroke-width="1.3" />
<path d="M957,690L962,698" fill="none" stroke-width="0.9" />
<path d="M953,695.5L966,694" fill="none" stroke-width="0.9" />
<path d="M955.9,722.2L1005.4,729.2" fill="none" stroke-width="1.3" />
<path d="M1016.8,712L1051,707 L1053.6,713.3L1018,719.7 Z" fill="#fff" stroke="none"/>
<path d="M1016.8,712L1051,707" fill="none" stroke-width="1.3"/>
<path d="M1018,719.7L1053.6,713.3" fill="none" stroke-width="1.3"/>
<path d="M1051,707Q1057.5,708.5 1053.6,713.3" fill="#fff" stroke-width="1.3" />
<circle cx="1013.6" cy="716.6" r="3.4" fill="#000" stroke-width="1.3"/>
<circle cx="1013.6" cy="716.6" r="1.3" fill="none" stroke-width="0.6"/>
<circle cx="1013.6" cy="716.6" r="1.4" fill="none" stroke="#fff" stroke-width="0.6"/>
<path d="M1012.2,720L1011.5,728" fill="none" stroke-width="1.3" />
<path d="M1015,720.5L1014.5,728.5" fill="none" stroke-width="1.3" />
<path d="M1036,716.5L1036,722" fill="none" stroke-width="1.3" />
<path d="M1039,716L1039,721.5" fill="none" stroke-width="1.3" />
<path d="M1046,705.1L1052,703.5" fill="none" stroke-width="1.3" />
<path d="M930.5,729Q933,723.5 938,724Q942,724.5 943.2,726" fill="#fff" stroke-width="1.3" />
<path d="M945.7,724Q949,720 954,720.5Q958,721 959.7,723.5" fill="#fff" stroke-width="1.3" />
<path d="M924.1,732.4L959.7,725.4 L955.9,733.6L924.8,739.3 Z" fill="#fff" stroke="none"/>
<path d="M924.1,732.4L959.7,725.4" fill="none" stroke-width="1.3"/>
<path d="M924.8,739.3L955.9,733.6" fill="none" stroke-width="1.3"/>
<path d="M959.7,725.4Q962,728 960,732L955.9,733.6" fill="#fff" stroke-width="1.3" />
<circle cx="920.3" cy="735.8" r="3.7" fill="#000" stroke-width="1.3"/>
<circle cx="920.3" cy="735.8" r="1.5" fill="none" stroke="#fff" stroke-width="0.6"/>
<path d="M931.7,738.7L931.7,743.8" fill="none" stroke-width="1.3" />
<path d="M934.8,738.2L934.8,743.5" fill="none" stroke-width="1.3" />
<path d="M962.8,726L964.7,736.2" fill="none" stroke-width="1.3" />
<path d="M966,725.4L967.9,734.9" fill="none" stroke-width="1.3" />
</g>
<g id="seat">
<path d="M343.8,367.5L318.8,172.5L341.2,50Q346.5,22.6 367.5,18.8L403,12.2Q423,8.5 431,27L445,53.8L492.5,151.2L518.8,333.8Z" fill="#fff" stroke-width="1.3" />
<path d="M345.6,366.5L320.8,172.8L343.2,50.5Q348.3,24.5 368,20.6" fill="none" stroke-width="0.9" />
<path d="M350,346L326.2,180L352.5,45Q354.8,33.4 372.5,30L402.5,24.2Q413,22.5 419,30L433.8,48.8L485,147.5L497.5,236L507.5,315Z" fill="url(#mesh)" stroke="#000" stroke-width="1.6"/>
<path d="M339.2,54.2L362.3,57.4Q363.5,57.6 363.2,58.8L360.3,69.3Q360,70.5 358.8,70.3L337.6,67.5Q336.4,67.3 336.5,66.1L337.9,55.2Q338,54 339.2,54.2Z" fill="#fff" stroke-width="1.3" />
<ellipse cx="348.2" cy="68.9" rx="11.9" ry="2.6" fill="#fff" stroke-width="1.3" transform="rotate(7.7 348.2 68.9)"/>
<path d="M318.7,188.7L341.3,186.3Q342.5,186.2 342.6,187.4L343.7,200Q343.8,201.2 342.6,201.4L321.2,204.8Q320,205 319.8,203.8L317.7,190Q317.5,188.8 318.7,188.7Z" fill="#fff" stroke-width="1.3" />
<ellipse cx="330" cy="187.5" rx="12.6" ry="2.6" fill="#fff" stroke-width="1.3" transform="rotate(-5.9 330 187.5)"/>
<path d="M317.5,188.8 A12.6 2.6 -5.9 0 1 342.5,186.2" fill="none" stroke-width="2.2"/>
<path d="M488.7,154.9L511.3,153.1Q512.5,153 512.6,154.2L514.4,168.3Q514.5,169.5 513.3,169.6L490,171.1Q488.8,171.2 488.7,170L487.6,156.2Q487.5,155 488.7,154.9Z" fill="#fff" stroke-width="1.3" />
<ellipse cx="500" cy="154" rx="12.5" ry="2.6" fill="#fff" stroke-width="1.3" transform="rotate(-4.6 500 154)"/>
<path d="M487.5,155 A12.5 2.6 -4.6 0 1 512.5,153" fill="none" stroke-width="2.2"/>
<path d="M333.7,301.1L357.6,300.1Q358.8,300 358.9,301.2L359.9,313.8Q360,315 358.8,315.1L336.2,317.4Q335,317.5 334.8,316.3L332.7,302.4Q332.5,301.2 333.7,301.1Z" fill="#fff" stroke-width="1.3" />
<ellipse cx="345.6" cy="300.6" rx="13.2" ry="2.6" fill="#fff" stroke-width="1.3" transform="rotate(-2.6 345.6 300.6)"/>
<path d="M332.5,301.2 A13.2 2.6 -2.6 0 1 358.8,300" fill="none" stroke-width="2.2"/>
<path d="M503.7,267.4L527.6,265.6Q528.8,265.5 528.9,266.7L529.9,280Q530,281.2 528.8,281.3L506.2,283.7Q505,283.8 504.8,282.6L502.7,268.7Q502.5,267.5 503.7,267.4Z" fill="#fff" stroke-width="1.3" />
<ellipse cx="515.6" cy="266.5" rx="13.2" ry="2.6" fill="#fff" stroke-width="1.3" transform="rotate(-4.3 515.6 266.5)"/>
<path d="M502.5,267.5 A13.2 2.6 -4.3 0 1 528.8,265.5" fill="none" stroke-width="2.2"/>
<path d="M436,45L460,41.5Q463,46 460,50Q452,56 441,54Z" fill="#fff" stroke-width="1.3" />
<path d="M386,331L368.3,191Q367.5,185 368.7,179.1L389,77.3Q391,67.5 394.4,58.1L395.9,53.8Q400,42.5 410,36.2L410,36.2Q420,30 425,28L427.2,27.1Q430,26 433,25.7L457,22.8Q460,22.5 462.9,23.4L472.5,26.2Q485,30 492.5,38.8L492.5,38.8Q500,47.5 506.4,60L548.9,142.9Q552.5,150 554.9,157.6L556.4,162.4Q558.8,170 560.1,177.9L570,236L577.5,296 L555,298.8L543.8,236L538.3,180.5Q537.5,172.5 535.3,164.8L534.7,162.7Q532.5,155 528.8,147.9L487.2,68.8Q482.5,60 478.8,53L478.8,53Q475,46 468.8,43L465.2,41.3Q462.5,40 459.5,40.4L439,43.4Q436,43.8 433.2,44.8L430.5,45.6Q425,47.5 420,51.2L420,51.2Q415,55 412.6,62.6L412.4,63.4Q410,71 408.5,78.9L389.9,179.1Q388.8,185 389.5,191L406,330 Z" fill="#fff" stroke="none"/>
<path d="M386,331L368.3,191Q367.5,185 368.7,179.1L389,77.3Q391,67.5 394.4,58.1L395.9,53.8Q400,42.5 410,36.2L410,36.2Q420,30 425,28L427.2,27.1Q430,26 433,25.7L457,22.8Q460,22.5 462.9,23.4L472.5,26.2Q485,30 492.5,38.8L492.5,38.8Q500,47.5 506.4,60L548.9,142.9Q552.5,150 554.9,157.6L556.4,162.4Q558.8,170 560.1,177.9L570,236L577.5,296" fill="none" stroke-width="1.3"/>
<path d="M406,330L389.5,191Q388.8,185 389.9,179.1L408.5,78.9Q410,71 412.4,63.4L412.6,62.6Q415,55 420,51.2L420,51.2Q425,47.5 430.5,45.6L433.2,44.8Q436,43.8 439,43.4L459.5,40.4Q462.5,40 465.2,41.3L468.8,43Q475,46 478.8,53L478.8,53Q482.5,60 487.2,68.8L528.8,147.9Q532.5,155 534.7,162.7L535.3,164.8Q537.5,172.5 538.3,180.5L543.8,236L555,298.8" fill="none" stroke-width="1.3"/>
<path d="M430,26Q443,33 436,43.8" fill="none" stroke-width="1.3" />
<path d="M460,22.5Q468,30 462.5,40" fill="none" stroke-width="1.3" />
<path d="M368,185.9Q378.7,178.5 389.5,184.6" fill="none" stroke-width="1.3" />
<path d="M369.9,204.3Q379,207.5 391,202.4" fill="none" stroke-width="1.3" />
<path d="M391,68Q400,72 410,71.5" fill="none" stroke-width="1.3" />
<path d="M482,56.5Q492,57 500,52.5" fill="none" stroke-width="1.3" />
<path d="M534.5,157.5Q546,158 552.8,151.6" fill="none" stroke-width="1.3" />
<path d="M537.5,172.5Q549,174 559,170" fill="none" stroke-width="1.3" />
<path d="M386,331Q396,336 406,330" fill="none" stroke-width="1.3" />
<path d="M555,298.8Q566,303 577.5,296" fill="none" stroke-width="1.3" />
<path d="M387.5,332.5L391.2,363.8L410,360L406.2,331.2L387.5,332.5Z" fill="#fff" stroke-width="1.3" />
<path d="M386,331Q396,336 406,330" fill="none" stroke-width="1.3" />
<circle cx="392.5" cy="342" r="1.7" fill="#fff" stroke-width="1.3"/>
<circle cx="394.5" cy="356" r="1.7" fill="#fff" stroke-width="1.3"/>
<path d="M556,300L561,332.5L580,331L575,297.5L556,300Z" fill="#fff" stroke-width="1.3" />
<path d="M555,298.8Q566,303 577.5,296" fill="none" stroke-width="1.3" />
<circle cx="562" cy="309" r="1.7" fill="#fff" stroke-width="1.3"/>
<circle cx="564.5" cy="322.5" r="1.7" fill="#fff" stroke-width="1.3"/>
</g>
<g id="p2">
<path d="M1106.5,662.4L1137.5,678.8L1134,684.9Q1132.5,687.5 1129.5,687L1126.8,686.5Q1123.8,686 1121.3,684.4L1101.3,671.6Q1098.8,670 1100.3,667.4L1102.3,663.6Q1103.8,661 1106.5,662.4Z" fill="#fff" stroke-width="1.3" />
<ellipse cx="1129.5" cy="676" rx="1.6" ry="1" fill="#fff" stroke-width="1.2" transform="rotate(25 1129.5 676)"/>
<path d="M1289.2,625.5L1290.2,624.6Q1292.4,622.5 1295.4,622.5L1297.8,622.5Q1300.8,622.5 1302.1,625.2L1312.7,646.3L1314.5,649.2Q1315.3,650.5 1313.8,650.4L1311.7,650.3Q1310.2,650.2 1309.5,648.9L1308.9,647.7Q1308.5,646.8 1307.5,646.9L1300.5,647.7Q1297.5,648 1295.3,646.3L1295.3,646.3Q1293.2,644.6 1292.2,641.8L1288,630.4Q1287,627.6 1289.2,625.5Z" fill="#fff" stroke-width="1.3" />
<ellipse cx="1306.5" cy="641.5" rx="2.2" ry="1.2" fill="#fff" stroke-width="1.3" transform="rotate(40 1306.5 641.5)"/>
<path d="M1163.5,758.2L1257.6,740L1290,734 L1284.1,748.2L1181.2,769.4 Z" fill="#fff" stroke="none"/>
<path d="M1163.5,758.2L1257.6,740L1290,734" fill="none" stroke-width="1.3"/>
<path d="M1181.2,769.4L1284.1,748.2" fill="none" stroke-width="1.3"/>
<path d="M1255,687.5L1277.5,735 L1295,735L1273.8,683.8 Z" fill="#fff" stroke="none"/>
<path d="M1255,687.5L1277.5,735" fill="none" stroke-width="1.3"/>
<path d="M1273.8,683.8L1295,735" fill="none" stroke-width="1.3"/>
<path d="M1255,687.5Q1253,680 1262,679.5Q1271,679 1273.8,683.8" fill="#fff" stroke-width="1.3" />
<ellipse cx="1268.5" cy="684" rx="1.8" ry="1.1" fill="#fff" stroke-width="1.2" transform="rotate(20 1268.5 684)"/>
<path d="M1196,788C1197.5,787.7 1199,787.2 1200.6,787.1C1211.8,786.3 1223,786.9 1234.1,785.3C1242.1,784.1 1250.2,782.3 1257.6,778.8C1263.4,776.1 1268.6,771.8 1272.9,767.1C1277,762.7 1279.3,757 1282.4,751.8C1283.1,750.7 1283.5,749.4 1284.1,748.2C1286.1,744.1 1288,740.1 1290,736 L1295,733.8C1296.3,735.9 1297.7,737.8 1298.8,740C1299.8,741.9 1301.2,743.8 1301.2,745.9C1301.2,749.9 1300.5,754 1298.8,757.6C1295.7,764 1292.2,770.4 1287.1,775.3C1280.2,782 1272.2,787.7 1263.5,791.8C1255.1,795.8 1245.7,798 1236.5,799.4C1225.4,801.1 1214.1,800.5 1202.9,801.2C1200.6,801.3 1198.3,801.7 1196,802 Z" fill="#fff" stroke="none"/>
<path d="M1196,788C1197.5,787.7 1199,787.2 1200.6,787.1C1211.8,786.3 1223,786.9 1234.1,785.3C1242.1,784.1 1250.2,782.3 1257.6,778.8C1263.4,776.1 1268.6,771.8 1272.9,767.1C1277,762.7 1279.3,757 1282.4,751.8C1283.1,750.7 1283.5,749.4 1284.1,748.2C1286.1,744.1 1288,740.1 1290,736" fill="none" stroke-width="1.3"/>
<path d="M1196,802C1198.3,801.7 1200.6,801.3 1202.9,801.2C1214.1,800.5 1225.4,801.1 1236.5,799.4C1245.7,798 1255.1,795.8 1263.5,791.8C1272.2,787.7 1280.2,782 1287.1,775.3C1292.2,770.4 1295.7,764 1298.8,757.6C1300.5,754 1301.2,749.9 1301.2,745.9C1301.2,743.8 1299.8,741.9 1298.8,740C1297.7,737.8 1296.3,735.9 1295,733.8" fill="none" stroke-width="1.3"/>
<path d="M1234.1,785.3Q1231,792 1236.5,799.4" fill="none" stroke-width="1.3" />
<path d="M1149.2,793.9L1176.5,788.2L1183.3,791.6Q1186,793 1185.3,795.9L1183.7,803.6Q1183,806.5 1180,806.9L1152.2,810.5Q1151.2,810.6 1151.1,809.6L1150.5,804Q1150.3,802 1149.8,800.1L1148.5,795.1Q1148.2,794.1 1149.2,793.9Z" fill="#fff" stroke-width="1.3" />
<path d="M1152.5,797Q1155.5,803 1153.5,808.5" fill="none" stroke-width="0.9" />
<path d="M1153.5,797L1179,794.8" fill="none" stroke-width="0.9" />
<path d="M1154.5,808.8L1160,808.2" fill="none" stroke-width="0.9" />
<path d="M1082.5,715L1140,745.9L1163.5,758.8C1170.9,762.9 1178.2,767.5 1184.7,772.9C1189.6,777 1193.8,782 1197.6,787.1C1199.7,789.9 1201.9,793 1202.4,796.5C1202.8,798.9 1201.7,801.7 1200,803.5C1197.9,805.8 1194.8,807.2 1191.8,808.2C1189.2,809 1186.2,809.3 1183.5,808.8C1181.7,808.5 1179.9,807.4 1178.8,805.9C1177.8,804.6 1177.4,802.8 1177.6,801.2C1177.8,799.5 1178.5,797.5 1180,796.5C1181.3,795.6 1183.1,796.5 1184.7,796.5 L1184.7,796.5 L1181.2,791.8 L1172.9,783.5 L1156.5,771.8 L1073.8,725 Z" fill="#fff" stroke="none"/>
<path d="M1082.5,715L1140,745.9L1163.5,758.8C1170.9,762.9 1178.2,767.5 1184.7,772.9C1189.6,777 1193.8,782 1197.6,787.1C1199.7,789.9 1201.9,793 1202.4,796.5C1202.8,798.9 1201.7,801.7 1200,803.5C1197.9,805.8 1194.8,807.2 1191.8,808.2C1189.2,809 1186.2,809.3 1183.5,808.8C1181.7,808.5 1179.9,807.4 1178.8,805.9C1177.8,804.6 1177.4,802.8 1177.6,801.2C1177.8,799.5 1178.5,797.5 1180,796.5C1181.3,795.6 1183.1,796.5 1184.7,796.5" fill="none" stroke-width="1.3"/>
<path d="M1073.8,725L1140,763.5L1156.5,771.8C1162.5,774.8 1167.7,779.3 1172.9,783.5C1175.9,786 1178.6,788.9 1181.2,791.8C1182.5,793.2 1183.5,794.9 1184.7,796.5" fill="none" stroke-width="1.3"/>
<path d="M1082.5,715L1073.8,725" fill="none" stroke-width="1.3" />
<path d="M1163.5,758.8Q1158,764 1156.5,771.8" fill="none" stroke-width="1.3" />
<ellipse cx="1090" cy="719.8" rx="1.8" ry="1.1" fill="#fff" stroke-width="1.2" transform="rotate(25 1090 719.8)"/>
<path d="M1227.6,751.8L1238.1,748.8Q1240,748.2 1241.7,749.2L1242.4,749.6Q1244.1,750.6 1244.7,752.5L1246.2,757.1Q1247.1,760 1245.3,761.8L1245.3,761.8Q1243.5,763.5 1241.2,763L1240.7,762.9Q1238.8,762.4 1238,760.6L1234.1,751.8L1227.6,751.8Z" fill="#fff" stroke-width="1.5" />
<ellipse cx="1241.8" cy="758.2" rx="1.3" ry="1.9" fill="#fff" stroke-width="1.3" transform="rotate(-20 1241.8 758.2)"/>
</g>
<g id="p3">
<path d="M800,782.8L992,836.5 L948,844.5L788.8,797.8 Z" fill="#fff" stroke="none"/>
<path d="M800,782.8L992,836.5" fill="none" stroke-width="1.3"/>
<path d="M788.8,797.8L948,844.5" fill="none" stroke-width="1.3"/>
<path d="M727.5,826.5L850,804 L855,816.5L742.5,837.8 Z" fill="#fff" stroke="none"/>
<path d="M727.5,826.5L850,804" fill="none" stroke-width="1.3"/>
<path d="M742.5,837.8L855,816.5" fill="none" stroke-width="1.3"/>
<path d="M850,804Q862,808 855,816.5" fill="#fff" stroke-width="1.3" />
<path d="M773,783.2L800,778 L796,796L775,800 Z" fill="#fff" stroke="none"/>
<path d="M773,783.2L800,778" fill="none" stroke-width="1.3"/>
<path d="M775,800L796,796" fill="none" stroke-width="1.3"/>
<path d="M800,778Q807,781 805,786" fill="none" stroke-width="1.3" />
<ellipse cx="773.8" cy="791.5" rx="7.4" ry="8.6" fill="#fff" stroke-width="1.6" transform="rotate(8 773.8 791.5)"/>
<ellipse cx="774.6" cy="791.5" rx="5.6" ry="6.8" fill="#fff" stroke-width="1.1" transform="rotate(8 774.6 791.5)"/>
<path d="M802.5,875L860.5,855.9Q870,852.8 879.9,851.7L995,839 L1022,856.5L885,868.2Q875,869 865.6,872.4L792.5,899 Z" fill="#fff" stroke="none"/>
<path d="M802.5,875L860.5,855.9Q870,852.8 879.9,851.7L995,839" fill="none" stroke-width="1.3"/>
<path d="M792.5,899L865.6,872.4Q875,869 885,868.2L1022,856.5" fill="none" stroke-width="1.3"/>
<path d="M868,852Q874,860 872,870" fill="none" stroke-width="1.3" />
<path d="M878,850.5Q885,859 883,868" fill="none" stroke-width="1.3" />
<path d="M695,802.8L780,865 L767.5,881.5L680,816.5 Z" fill="#fff" stroke="none"/>
<path d="M695,802.8L780,865" fill="none" stroke-width="1.3"/>
<path d="M680,816.5L767.5,881.5" fill="none" stroke-width="1.3"/>
<path d="M671,803.5L700,798.5 L690,817.5L673,820.5 Z" fill="#fff" stroke="none"/>
<path d="M671,803.5L700,798.5" fill="none" stroke-width="1.3"/>
<path d="M673,820.5L690,817.5" fill="none" stroke-width="1.3"/>
<path d="M700,798.5Q708,801.5 705,808" fill="none" stroke-width="1.3" />
<path d="M690,800Q686,808 688,818" fill="none" stroke-width="0.9" />
<ellipse cx="671.8" cy="812" rx="7.4" ry="8.8" fill="#fff" stroke-width="1.6" transform="rotate(8 671.8 812)"/>
<ellipse cx="672.6" cy="812" rx="5.6" ry="7" fill="#fff" stroke-width="1.1" transform="rotate(8 672.6 812)"/>
<g transform="translate(764.5 878.5) scale(1)">
<path d="M27,-8L31,-25Q33,-30 38,-29Q42,-27 42,-21L39,8Q36,9 36,3Z" fill="#fff" stroke-width="1.3" />
<circle cx="36.5" cy="-22.5" r="1.6" fill="#fff" stroke-width="1.3"/>
<path d="M12,-12L19,-24Q21,-28 26,-27Q30,-26 31,-20L33,-8" fill="#fff" stroke-width="1.3" />
<circle cx="25.5" cy="-20.5" r="1.8" fill="#fff" stroke-width="1.3"/>
<path d="M0,-9L3,-13L33,-8L30,-3Z" fill="#fff" stroke-width="1.3" />
<path d="M3,-10.5L29,-6" fill="none" stroke-width="0.8" />
<path d="M4,-6L29,-3L26,22L2,19Z" fill="#fff" stroke-width="1.3" />
<path d="M29,-3L33,-8L31,18L26,22" fill="#fff" stroke-width="1.3" />
<path d="M-6,21L-2,17L26,21L31,18L30,23L25,27L-5,24Z" fill="#fff" stroke-width="1.3" />
<path d="M-1,20.5L22,23.5" fill="none" stroke-width="0.8" />
</g>
<g transform="translate(992 838)">
<path d="M0,-1L7,-27Q9,-32 14,-31Q18,-29 18,-24L15,5Q12,6 10,1Z" fill="#fff" stroke-width="1.3" />
<circle cx="12" cy="-25" r="1.7" fill="#fff" stroke-width="1.3"/>
<path d="M20,-26Q21,-31 26,-31Q30,-29 30,-24L29,-14L20,-12Z" fill="#fff" stroke-width="1.3" />
<circle cx="25.5" cy="-26" r="1.6" fill="#fff" stroke-width="1.3"/>
<path d="M19,-17L43,-21L44,-15L34,-10L34,17L44,12L44,16L35,22L28,20L28,-9L19,-12Z" fill="#fff" stroke-width="1.3" />
<path d="M28,-9L34,-10" fill="none" stroke-width="0.9" />
<ellipse cx="37" cy="-16" rx="2" ry="1.1" fill="#fff" stroke-width="1" transform="rotate(-10 37 -16)"/>
</g>
</g>
<g id="hw">
<path d="M422.5,362L400.8,365" fill="none" stroke="#000" stroke-width="4.8" stroke-linecap="round" stroke-linejoin="round"/>
<path d="M422.5,362L400.8,365" fill="none" stroke="#fff" stroke-width="2.2" stroke-linecap="round" stroke-linejoin="round"/>
<ellipse cx="400.8" cy="365" rx="3.7" ry="4.6" fill="#fff" stroke-width="1.7" transform="rotate(172.1 400.8 365)"/>
<ellipse cx="400" cy="365.1" rx="2.3" ry="2.9" fill="#fff" stroke-width="1.1" transform="rotate(172.1 400 365.1)"/>
<path d="M423.8,375.8L402,379" fill="none" stroke="#000" stroke-width="4.8" stroke-linecap="round" stroke-linejoin="round"/>
<path d="M423.8,375.8L402,379" fill="none" stroke="#fff" stroke-width="2.2" stroke-linecap="round" stroke-linejoin="round"/>
<ellipse cx="402" cy="379" rx="3.7" ry="4.6" fill="#fff" stroke-width="1.7" transform="rotate(171.6 402 379)"/>
<ellipse cx="401.2" cy="379.1" rx="2.3" ry="2.9" fill="#fff" stroke-width="1.1" transform="rotate(171.6 401.2 379.1)"/>
<circle cx="492" cy="347.5" r="6" fill="#fff" stroke-width="1.5"/>
<circle cx="492.4" cy="347.5" r="4.7" fill="#fff" stroke-width="0.9"/>
<circle cx="492.5" cy="347.5" r="2.2" fill="#fff" stroke-width="1.2"/>
<circle cx="494" cy="361" r="6" fill="#fff" stroke-width="1.5"/>
<circle cx="494.4" cy="361" r="4.7" fill="#fff" stroke-width="0.9"/>
<circle cx="494.5" cy="361" r="2.2" fill="#fff" stroke-width="1.2"/>
<circle cx="570" cy="331" r="6" fill="#fff" stroke-width="2.2"/>
<circle cx="569.6" cy="331.3" r="3.3" fill="#fff" stroke-width="1.5"/>
<circle cx="569.6" cy="331.3" r="1.5" fill="#fff" stroke-width="0.9"/>
<circle cx="571" cy="346" r="6" fill="#fff" stroke-width="2.2"/>
<circle cx="570.6" cy="346.3" r="3.3" fill="#fff" stroke-width="1.5"/>
<circle cx="570.6" cy="346.3" r="1.5" fill="#fff" stroke-width="0.9"/>
<path d="M641,317.5L661,314.5" fill="none" stroke="#000" stroke-width="4.8" stroke-linecap="round" stroke-linejoin="round"/>
<path d="M641,317.5L661,314.5" fill="none" stroke="#fff" stroke-width="2.2" stroke-linecap="round" stroke-linejoin="round"/>
<ellipse cx="661" cy="314.5" rx="3.7" ry="4.6" fill="#fff" stroke-width="1.7" transform="rotate(-8.5 661 314.5)"/>
<ellipse cx="661.8" cy="314.4" rx="2.3" ry="2.9" fill="#fff" stroke-width="1.1" transform="rotate(-8.5 661.8 314.4)"/>
<path d="M642.5,331.8L663.8,328" fill="none" stroke="#000" stroke-width="4.8" stroke-linecap="round" stroke-linejoin="round"/>
<path d="M642.5,331.8L663.8,328" fill="none" stroke="#fff" stroke-width="2.2" stroke-linecap="round" stroke-linejoin="round"/>
<ellipse cx="663.8" cy="328" rx="3.7" ry="4.6" fill="#fff" stroke-width="1.7" transform="rotate(-10.1 663.8 328)"/>
<ellipse cx="664.6" cy="327.9" rx="2.3" ry="2.9" fill="#fff" stroke-width="1.1" transform="rotate(-10.1 664.6 327.9)"/>
<path d="M231,625L184.5,635" fill="none" stroke="#000" stroke-width="6.3" stroke-linecap="butt" stroke-linejoin="round"/>
<path d="M231,625L184.5,635" fill="none" stroke="#fff" stroke-width="3.7" stroke-linecap="butt" stroke-linejoin="round"/>
<ellipse cx="231" cy="625" rx="1.8" ry="2.5" fill="#fff" stroke-width="1.3" transform="rotate(167.9 231 625)"/>
<ellipse cx="210.1" cy="629.5" rx="0.8" ry="2.5" fill="none" stroke-width="0.9" transform="rotate(167.9 210.1 629.5)"/>
<ellipse cx="184.5" cy="635" rx="4.7" ry="6.2" fill="#fff" stroke-width="1.5" transform="rotate(167.9 184.5 635)"/>
<ellipse cx="183.3" cy="635.3" rx="3.1" ry="4.1" fill="#fff" stroke-width="1.1" transform="rotate(167.9 183.3 635.3)"/>
<path d="M240.7,629.8L258.6,626.5 L256.4,614.3L238.5,617.6 Z" fill="#fff" stroke="none"/>
<path d="M240.7,629.8L258.6,626.5" fill="none" stroke-width="1.3"/>
<path d="M238.5,617.6L256.4,614.3" fill="none" stroke-width="1.3"/>
<ellipse cx="257.5" cy="620.4" rx="5.4" ry="6.2" fill="#fff" stroke-width="1.3" transform="rotate(-10.4 257.5 620.4)"/>
<path d="M240.7,629.8 L258.6,626.5 L256.4,614.3 L238.5,617.6 Z" fill="#fff" stroke="none"/>
<path d="M240.7,629.8L258.6,626.5" fill="none" stroke-width="1.3" />
<path d="M238.5,617.6L256.4,614.3" fill="none" stroke-width="1.3" />
<ellipse cx="239.6" cy="623.7" rx="8.4" ry="9.1" fill="#fff" stroke-width="1.6" transform="rotate(-10.4 239.6 623.7)"/>
<ellipse cx="240.4" cy="623.7" rx="7" ry="7.5" fill="#fff" stroke-width="1" transform="rotate(-10.4 240.4 623.7)"/>
<ellipse cx="240.5" cy="623.7" rx="4.2" ry="5.2" fill="#fff" stroke-width="1.3" transform="rotate(-10.4 240.5 623.7)"/>
<path d="M267.4,623.1L300.3,617.3 L298.7,608.3L265.8,614.1 Z" fill="#fff" stroke="none"/>
<path d="M267.4,623.1L300.3,617.3" fill="none" stroke-width="1.3"/>
<path d="M265.8,614.1L298.7,608.3" fill="none" stroke-width="1.3"/>
<path d="M300.3,617.3 Q302.7,612.2 298.7,608.3" fill="#fff"/>
<ellipse cx="266.6" cy="618.6" rx="4.2" ry="4.6" fill="#fff" stroke-width="1.7" transform="rotate(-10 266.6 618.6)"/>
<ellipse cx="266.9" cy="618.6" rx="3" ry="3.2" fill="#fff" stroke-width="0.9" transform="rotate(-10 266.9 618.6)"/>
<ellipse cx="405" cy="591.2" rx="4" ry="8.3" fill="#fff" stroke-width="1.3" transform="rotate(-10.5 405 591.2)"/>
<ellipse cx="403" cy="591.7" rx="4" ry="8.3" fill="#fff" stroke-width="1.5" transform="rotate(-10.5 403 591.7)"/>
<path d="M387.3,600.5 L404.1,597.4 L401.9,586 L385.1,589.1 Z" fill="#fff" stroke="none"/>
<path d="M387.3,600.5L404.1,597.4" fill="none" stroke-width="1.3" />
<path d="M385.1,589.1L401.9,586" fill="none" stroke-width="1.3" />
<ellipse cx="386.2" cy="594.8" rx="5.2" ry="5.8" fill="#fff" stroke-width="1.7" transform="rotate(-10.5 386.2 594.8)"/>
<ellipse cx="386.7" cy="594.8" rx="3.6" ry="4.1" fill="#fff" stroke-width="1" transform="rotate(-10.5 386.7 594.8)"/>
<ellipse cx="420.3" cy="589.2" rx="4.6" ry="5.5" fill="#fff" stroke-width="1.6" transform="rotate(8 420.3 589.2)"/>
<ellipse cx="418.5" cy="588.8" rx="4.8" ry="5.7" fill="#fff" stroke-width="1.5" transform="rotate(8 418.5 588.8)"/>
<ellipse cx="418.7" cy="588.8" rx="2.5" ry="3.2" fill="#fff" stroke-width="1.3" transform="rotate(8 418.7 588.8)"/>
<ellipse cx="444.8" cy="584.2" rx="4.6" ry="5.5" fill="#fff" stroke-width="1.6" transform="rotate(8 444.8 584.2)"/>
<ellipse cx="443" cy="583.8" rx="4.8" ry="5.7" fill="#fff" stroke-width="1.5" transform="rotate(8 443 583.8)"/>
<ellipse cx="443.2" cy="583.8" rx="2.5" ry="3.2" fill="#fff" stroke-width="1.3" transform="rotate(8 443.2 583.8)"/>
<path d="M459,545L498,555L501.5,559.5L501.5,566 L476,563L461,559 Z" fill="#fff" stroke="none"/>
<path d="M459,545L498,555L501.5,559.5L501.5,566" fill="none" stroke-width="1.3"/>
<path d="M461,559L476,563" fill="none" stroke-width="1.3"/>
<path d="M480.3,582.4L498.3,578.1 L495.7,566.9L477.7,571.2 Z" fill="#fff" stroke="none"/>
<path d="M480.3,582.4L498.3,578.1" fill="none" stroke-width="1.3"/>
<path d="M477.7,571.2L495.7,566.9" fill="none" stroke-width="1.3"/>
<ellipse cx="497" cy="572.5" rx="5" ry="5.8" fill="#fff" stroke-width="1.3" transform="rotate(-13.4 497 572.5)"/>
<path d="M480.3,582.4 L498.3,578.1 L495.7,566.9 L477.7,571.2 Z" fill="#fff" stroke="none"/>
<path d="M480.3,582.4L498.3,578.1" fill="none" stroke-width="1.3" />
<path d="M477.7,571.2L495.7,566.9" fill="none" stroke-width="1.3" />
<ellipse cx="479" cy="576.8" rx="7.6" ry="8.6" fill="#fff" stroke-width="1.6" transform="rotate(-13.4 479 576.8)"/>
<ellipse cx="479.8" cy="576.8" rx="6.2" ry="7" fill="#fff" stroke-width="1" transform="rotate(-13.4 479.8 576.8)"/>
<ellipse cx="479.9" cy="576.8" rx="4.2" ry="5.2" fill="#fff" stroke-width="1.3" transform="rotate(-13.4 479.9 576.8)"/>
<path d="M510,563L540,558.5 L541,573.5L510,579 Z" fill="#fff" stroke="none"/>
<path d="M510,563L540,558.5" fill="none" stroke-width="1.3"/>
<path d="M510,579L541,573.5" fill="none" stroke-width="1.3"/>
<path d="M540,558.5Q549,564 541,573.5" fill="#fff" stroke-width="1.3" />
<ellipse cx="509.8" cy="571" rx="7.4" ry="8.4" fill="#fff" stroke-width="1.7" transform="rotate(8 509.8 571)"/>
<ellipse cx="510.6" cy="571" rx="5.8" ry="6.8" fill="#fff" stroke-width="1.1" transform="rotate(8 510.6 571)"/>
<path d="M650.2,542.5L694.5,533.8" fill="none" stroke="#000" stroke-width="5.5" stroke-linecap="butt" stroke-linejoin="round"/>
<path d="M650.2,542.5L694.5,533.8" fill="none" stroke="#fff" stroke-width="2.9" stroke-linecap="butt" stroke-linejoin="round"/>
<ellipse cx="650.2" cy="542.5" rx="1.5" ry="2.1" fill="#fff" stroke-width="1.3" transform="rotate(-11.1 650.2 542.5)"/>
<ellipse cx="670.1" cy="538.6" rx="0.8" ry="2.1" fill="none" stroke-width="0.9" transform="rotate(-11.1 670.1 538.6)"/>
<ellipse cx="694.5" cy="533.8" rx="4.1" ry="5.4" fill="#fff" stroke-width="1.5" transform="rotate(-11.1 694.5 533.8)"/>
<ellipse cx="695.7" cy="533.6" rx="2.7" ry="3.6" fill="#fff" stroke-width="1.1" transform="rotate(-11.1 695.7 533.6)"/>
<ellipse cx="645.5" cy="544.4" rx="3.6" ry="6.3" fill="#fff" stroke-width="1.4" transform="rotate(-8 645.5 544.4)"/>
<ellipse cx="644" cy="544.6" rx="3.6" ry="6.3" fill="#fff" stroke-width="1.6" transform="rotate(-8 644 544.6)"/>
<ellipse cx="643.6" cy="544.6" rx="1.8" ry="3.6" fill="#fff" stroke-width="1" transform="rotate(-8 643.6 544.6)"/>
<path d="M580.5,557.5Q580,562.5 585,562Q588,561.5 588,559" fill="#fff" stroke-width="1.4" />
<path d="M1153.8,647.5L1167.5,630" fill="none" stroke="#000" stroke-width="4.8" stroke-linecap="round" stroke-linejoin="round"/>
<path d="M1153.8,647.5L1167.5,630" fill="none" stroke="#fff" stroke-width="2.2" stroke-linecap="round" stroke-linejoin="round"/>
<ellipse cx="1167.5" cy="630" rx="3.7" ry="4.6" fill="#fff" stroke-width="1.7" transform="rotate(-51.9 1167.5 630)"/>
<ellipse cx="1168" cy="629.4" rx="2.3" ry="2.9" fill="#fff" stroke-width="1.1" transform="rotate(-51.9 1168 629.4)"/>
<path d="M1331.4,612.4L1345.8,595.4" fill="none" stroke="#000" stroke-width="4.8" stroke-linecap="round" stroke-linejoin="round"/>
<path d="M1331.4,612.4L1345.8,595.4" fill="none" stroke="#fff" stroke-width="2.2" stroke-linecap="round" stroke-linejoin="round"/>
<ellipse cx="1345.8" cy="595.4" rx="3.7" ry="4.6" fill="#fff" stroke-width="1.7" transform="rotate(-49.7 1345.8 595.4)"/>
<ellipse cx="1346.3" cy="594.8" rx="2.3" ry="2.9" fill="#fff" stroke-width="1.1" transform="rotate(-49.7 1346.3 594.8)"/>
<path d="M1306,795L1336,793.8" fill="none" stroke="#000" stroke-width="4.8" stroke-linecap="round" stroke-linejoin="round"/>
<path d="M1306,795L1336,793.8" fill="none" stroke="#fff" stroke-width="2.2" stroke-linecap="round" stroke-linejoin="round"/>
<ellipse cx="1336" cy="793.8" rx="3.7" ry="4.6" fill="#fff" stroke-width="1.7" transform="rotate(-2.3 1336 793.8)"/>
<ellipse cx="1336.8" cy="793.8" rx="2.3" ry="2.9" fill="#fff" stroke-width="1.1" transform="rotate(-2.3 1336.8 793.8)"/>
<g transform="translate(1230.5 728.5) rotate(-15) scale(1.2)">
<path d="M-3.5,0L-3.5,5.5L3.5,5.5L3.5,0" fill="#fff" stroke-width="1.3" />
<path d="M-1,5.5L-1,1M1.5,5.5L1.5,1" fill="none" stroke-width="0.8" />
<ellipse cx="0" cy="0" rx="5.6" ry="3.3" fill="#fff" stroke-width="1.3" transform="rotate(0 0 0)"/>
<ellipse cx="0" cy="-0.2" rx="2.6" ry="1.5" fill="#fff" stroke-width="1.1" transform="rotate(0 0 -0.2)"/>
</g>
<g transform="translate(1051 764) rotate(-15) scale(1.2)">
<path d="M-3.5,0L-3.5,5.5L3.5,5.5L3.5,0" fill="#fff" stroke-width="1.3" />
<path d="M-1,5.5L-1,1M1.5,5.5L1.5,1" fill="none" stroke-width="0.8" />
<ellipse cx="0" cy="0" rx="5.6" ry="3.3" fill="#fff" stroke-width="1.3" transform="rotate(0 0 0)"/>
<ellipse cx="0" cy="-0.2" rx="2.6" ry="1.5" fill="#fff" stroke-width="1.1" transform="rotate(0 0 -0.2)"/>
</g>
<g transform="translate(1115.5 799.5)">
<path d="M-4,-4.5L-7,-4L-7,4.5L-4,5" fill="#fff" stroke-width="1.3" />
<ellipse cx="0" cy="0" rx="4.2" ry="5.6" fill="#fff" stroke-width="1.4" transform="rotate(0 0 0)"/>
<ellipse cx="0.4" cy="0" rx="2" ry="2.8" fill="#fff" stroke-width="1.1" transform="rotate(0 0.4 0)"/>
</g>
<ellipse cx="573.6" cy="831.4" rx="4.6" ry="5.5" fill="#fff" stroke-width="1.6" transform="rotate(8 573.6 831.4)"/>
<ellipse cx="571.8" cy="831" rx="4.8" ry="5.7" fill="#fff" stroke-width="1.5" transform="rotate(8 571.8 831)"/>
<ellipse cx="572" cy="831" rx="2.5" ry="3.2" fill="#fff" stroke-width="1.3" transform="rotate(8 572 831)"/>
<path d="M596.1,832.9L613.2,829.4 L610.8,817.2L593.7,820.7 Z" fill="#fff" stroke="none"/>
<path d="M596.1,832.9L613.2,829.4" fill="none" stroke-width="1.3"/>
<path d="M593.7,820.7L610.8,817.2" fill="none" stroke-width="1.3"/>
<ellipse cx="612" cy="823.3" rx="5.4" ry="6.2" fill="#fff" stroke-width="1.3" transform="rotate(-11.6 612 823.3)"/>
<path d="M596.1,832.9 L613.2,829.4 L610.8,817.2 L593.7,820.7 Z" fill="#fff" stroke="none"/>
<path d="M596.1,832.9L613.2,829.4" fill="none" stroke-width="1.3" />
<path d="M593.7,820.7L610.8,817.2" fill="none" stroke-width="1.3" />
<ellipse cx="594.9" cy="826.8" rx="8.4" ry="9.1" fill="#fff" stroke-width="1.6" transform="rotate(-11.6 594.9 826.8)"/>
<ellipse cx="595.7" cy="826.8" rx="7" ry="7.5" fill="#fff" stroke-width="1" transform="rotate(-11.6 595.7 826.8)"/>
<ellipse cx="595.8" cy="826.8" rx="4.2" ry="5.2" fill="#fff" stroke-width="1.3" transform="rotate(-11.6 595.8 826.8)"/>
<path d="M618.8,826.7L651.7,821.1 L650.3,812.5L617.4,818.1 Z" fill="#fff" stroke="none"/>
<path d="M618.8,826.7L651.7,821.1" fill="none" stroke-width="1.3"/>
<path d="M617.4,818.1L650.3,812.5" fill="none" stroke-width="1.3"/>
<path d="M651.7,821.1 Q654.2,816.3 650.3,812.5" fill="#fff"/>
<ellipse cx="618.1" cy="822.4" rx="4" ry="4.4" fill="#fff" stroke-width="1.7" transform="rotate(-9.7 618.1 822.4)"/>
<ellipse cx="618.4" cy="822.4" rx="2.8" ry="3" fill="#fff" stroke-width="0.9" transform="rotate(-9.7 618.4 822.4)"/>
<path d="M642.5,797.6L682.5,789.5" fill="none" stroke="#000" stroke-width="5.9" stroke-linecap="round" stroke-linejoin="round"/>
<path d="M642.5,797.6L682.5,789.5" fill="none" stroke="#fff" stroke-width="3.3" stroke-linecap="round" stroke-linejoin="round"/>
<ellipse cx="684.5" cy="788.6" rx="3.6" ry="5.6" fill="#fff" stroke-width="1.5" transform="rotate(-10 684.5 788.6)"/>
<ellipse cx="688.5" cy="787.8" rx="3.4" ry="5.2" fill="#fff" stroke-width="1.3" transform="rotate(-10 688.5 787.8)"/>
<ellipse cx="699.4" cy="786.6" rx="4.6" ry="5.5" fill="#fff" stroke-width="1.6" transform="rotate(8 699.4 786.6)"/>
<ellipse cx="697.6" cy="786.2" rx="4.8" ry="5.7" fill="#fff" stroke-width="1.5" transform="rotate(8 697.6 786.2)"/>
<ellipse cx="697.8" cy="786.2" rx="2.5" ry="3.2" fill="#fff" stroke-width="1.3" transform="rotate(8 697.8 786.2)"/>
<path d="M705.3,784L743,776.5" fill="none" stroke="#000" stroke-width="6.3" stroke-linecap="butt" stroke-linejoin="round"/>
<path d="M705.3,784L743,776.5" fill="none" stroke="#fff" stroke-width="3.7" stroke-linecap="butt" stroke-linejoin="round"/>
<path d="M722,778L723,783.5" fill="none" stroke-width="0.9" />
<ellipse cx="734" cy="800.1" rx="4.4" ry="8.3" fill="#fff" stroke-width="1.3" transform="rotate(-9.6 734 800.1)"/>
<ellipse cx="732" cy="800.6" rx="4.4" ry="8.3" fill="#fff" stroke-width="1.5" transform="rotate(-9.6 732 800.6)"/>
<path d="M715.8,809.4 L733,806.5 L731,794.7 L713.8,797.6 Z" fill="#fff" stroke="none"/>
<path d="M715.8,809.4L733,806.5" fill="none" stroke-width="1.3" />
<path d="M713.8,797.6L731,794.7" fill="none" stroke-width="1.3" />
<ellipse cx="714.8" cy="803.5" rx="5.6" ry="6" fill="#fff" stroke-width="1.7" transform="rotate(-9.6 714.8 803.5)"/>
<ellipse cx="715.3" cy="803.5" rx="3.6" ry="4.1" fill="#fff" stroke-width="1" transform="rotate(-9.6 715.3 803.5)"/>
<path d="M742.8,804.9L760.6,802 L758.4,789L740.6,791.9 Z" fill="#fff" stroke="none"/>
<path d="M742.8,804.9L760.6,802" fill="none" stroke-width="1.3"/>
<path d="M740.6,791.9L758.4,789" fill="none" stroke-width="1.3"/>
<ellipse cx="759.5" cy="795.5" rx="5.8" ry="6.6" fill="#fff" stroke-width="1.3" transform="rotate(-9.3 759.5 795.5)"/>
<path d="M742.8,804.9 L760.6,802 L758.4,789 L740.6,791.9 Z" fill="#fff" stroke="none"/>
<path d="M742.8,804.9L760.6,802" fill="none" stroke-width="1.3" />
<path d="M740.6,791.9L758.4,789" fill="none" stroke-width="1.3" />
<ellipse cx="741.7" cy="798.4" rx="7.2" ry="8.5" fill="#fff" stroke-width="1.6" transform="rotate(-9.3 741.7 798.4)"/>
<ellipse cx="742.5" cy="798.4" rx="5.8" ry="6.9" fill="#fff" stroke-width="1" transform="rotate(-9.3 742.5 798.4)"/>
<ellipse cx="742.6" cy="798.4" rx="4.2" ry="5.2" fill="#fff" stroke-width="1.3" transform="rotate(-9.3 742.6 798.4)"/>
<path d="M822.2,787.2L854.2,778.7 L851.8,769.9L819.8,778.4 Z" fill="#fff" stroke="none"/>
<path d="M822.2,787.2L854.2,778.7" fill="none" stroke-width="1.3"/>
<path d="M819.8,778.4L851.8,769.9" fill="none" stroke-width="1.3"/>
<path d="M854.2,778.7 Q856.1,773.5 851.8,769.9" fill="#fff"/>
<ellipse cx="821" cy="782.8" rx="4" ry="4.6" fill="#fff" stroke-width="1.7" transform="rotate(-14.9 821 782.8)"/>
<ellipse cx="821.3" cy="782.8" rx="2.8" ry="3.2" fill="#fff" stroke-width="0.9" transform="rotate(-14.9 821.3 782.8)"/>
<ellipse cx="878.5" cy="770" rx="4.6" ry="8.8" fill="#fff" stroke-width="1.3" transform="rotate(-15.6 878.5 770)"/>
<ellipse cx="876.5" cy="770.5" rx="4.6" ry="8.8" fill="#fff" stroke-width="1.5" transform="rotate(-15.6 876.5 770.5)"/>
<path d="M863.8,780.3 L878.1,776.3 L874.9,764.7 L860.6,768.7 Z" fill="#fff" stroke="none"/>
<path d="M863.8,780.3L878.1,776.3" fill="none" stroke-width="1.3" />
<path d="M860.6,768.7L874.9,764.7" fill="none" stroke-width="1.3" />
<ellipse cx="862.2" cy="774.5" rx="5.4" ry="6" fill="#fff" stroke-width="1.7" transform="rotate(-15.6 862.2 774.5)"/>
<ellipse cx="862.7" cy="774.5" rx="3.6" ry="4.1" fill="#fff" stroke-width="1" transform="rotate(-15.6 862.7 774.5)"/>
<circle cx="896.8" cy="767" r="6.2" fill="#fff" stroke-width="1.5"/>
<circle cx="897.2" cy="767" r="4.9" fill="#fff" stroke-width="0.9"/>
<circle cx="897.3" cy="767" r="2.8" fill="#fff" stroke-width="1.2"/>
</g>
<g id="labels">
<text x="610.2" y="182.3" font-family="Liberation Sans, sans-serif" font-size="16" fill="#000" stroke="none">6</text>
<path d="M606,178L602,179.5L504,219" fill="none" stroke-width="1.1" />
<text x="612" y="218.5" font-family="Liberation Sans, sans-serif" font-size="16" fill="#000" stroke="none">5</text>
<path d="M605,214L601,215.5L562.5,237.5" fill="none" stroke-width="1.1" />
<text x="611.5" y="310.4" font-family="Liberation Sans, sans-serif" font-size="16" fill="#000" stroke="none">13</text>
<path d="M606,308L601,309.5L500,345" fill="none" stroke-width="1.1" />
<path d="M601,309.5L576,329" fill="none" stroke-width="1.1" />
<text x="611.5" y="331.2" font-family="Liberation Sans, sans-serif" font-size="16" fill="#000" stroke="none">13</text>
<path d="M606,329L601,330.5L502.5,360" fill="none" stroke-width="1.1" />
<path d="M601,330.5L577.5,345" fill="none" stroke-width="1.1" />
<text x="338.1" y="396.4" font-family="Liberation Sans, sans-serif" font-size="16" fill="#000" stroke="none">12</text>
<path d="M360,391.5L364,390L397.5,366.5" fill="none" stroke-width="1.1" />
<text x="338.1" y="415.4" font-family="Liberation Sans, sans-serif" font-size="16" fill="#000" stroke="none">12</text>
<path d="M360,410.5L364,409L401,383" fill="none" stroke-width="1.1" />
<text x="689.9" y="299.2" font-family="Liberation Sans, sans-serif" font-size="16" fill="#000" stroke="none">12</text>
<path d="M686,295L681,296.5L664,312.5" fill="none" stroke-width="1.1" />
<text x="689.9" y="318.6" font-family="Liberation Sans, sans-serif" font-size="16" fill="#000" stroke="none">12</text>
<path d="M686,312.5L682,314L666,327.5" fill="none" stroke-width="1.1" />
<text x="874.9" y="318.4" font-family="Liberation Sans, sans-serif" font-size="16" fill="#000" stroke="none">1</text>
<path d="M872.5,312.5L868.8,314L785,471" fill="none" stroke-width="1.1" />
<text x="131.7" y="678.1" font-family="Liberation Sans, sans-serif" font-size="16" fill="#000" stroke="none">4</text>
<path d="M142.5,672L146.5,670L176,565" fill="none" stroke-width="1.1" />
<text x="204.7" y="678.1" font-family="Liberation Sans, sans-serif" font-size="16" fill="#000" stroke="none">7</text>
<path d="M201,672.5L197.5,671L188.8,640" fill="none" stroke-width="1.1" />
<text x="258.2" y="678.1" font-family="Liberation Sans, sans-serif" font-size="16" fill="#000" stroke="none">8</text>
<path d="M253.8,672.5L250,671L241,632.5" fill="none" stroke-width="1.1" />
<text x="298.2" y="678.1" font-family="Liberation Sans, sans-serif" font-size="16" fill="#000" stroke="none">9</text>
<path d="M293.8,672.5L290,671L268.8,622.5" fill="none" stroke-width="1.1" />
<text x="345.8" y="678.1" font-family="Liberation Sans, sans-serif" font-size="16" fill="#000" stroke="none">8</text>
<path d="M355.5,673L359,671.5L388.8,600" fill="none" stroke-width="1.1" />
<text x="378.4" y="678.1" font-family="Liberation Sans, sans-serif" font-size="16" fill="#000" stroke="none">10</text>
<path d="M396.5,672.5L401,671L420,593.8" fill="none" stroke-width="1.1" />
<path d="M401,671L440,587.5" fill="none" stroke-width="1.1" />
<text x="689.2" y="572.9" font-family="Liberation Sans, sans-serif" font-size="16" fill="#000" stroke="none">8</text>
<path d="M685,567.5L680,566L646,555" fill="none" stroke-width="1.1" />
<text x="724" y="572.9" font-family="Liberation Sans, sans-serif" font-size="16" fill="#000" stroke="none">7</text>
<path d="M720,568L716,567.5L697.5,540" fill="none" stroke-width="1.1" />
<text x="520.4" y="606.1" font-family="Liberation Sans, sans-serif" font-size="16" fill="#000" stroke="none">8</text>
<path d="M516,600.5L512.5,600L483.8,583.8" fill="none" stroke-width="1.1" />
<text x="554.2" y="606.1" font-family="Liberation Sans, sans-serif" font-size="16" fill="#000" stroke="none">9</text>
<path d="M565,600.5L570,600L583.8,562.5" fill="none" stroke-width="1.1" />
<text x="607.2" y="751.9" font-family="Liberation Sans, sans-serif" font-size="16" fill="#000" stroke="none">7</text>
<path d="M618.8,746.5L622.5,747.8L665,790" fill="none" stroke-width="1.1" />
<text x="643" y="751.9" font-family="Liberation Sans, sans-serif" font-size="16" fill="#000" stroke="none">8</text>
<path d="M653.8,746.5L657.5,747.8L712.5,797.8" fill="none" stroke-width="1.1" />
<text x="675" y="751.9" font-family="Liberation Sans, sans-serif" font-size="16" fill="#000" stroke="none">7</text>
<path d="M686,746.5L690,747.8L712.5,780" fill="none" stroke-width="1.1" />
<text x="709.8" y="751.9" font-family="Liberation Sans, sans-serif" font-size="16" fill="#000" stroke="none">8</text>
<path d="M720,746.5L723.8,747.8L752.5,791.5" fill="none" stroke-width="1.1" />
<text x="762.7" y="751.9" font-family="Liberation Sans, sans-serif" font-size="16" fill="#000" stroke="none">7</text>
<path d="M773.8,746.5L777.5,747.8L832.5,772.8" fill="none" stroke-width="1.1" />
<text x="529.9" y="861.9" font-family="Liberation Sans, sans-serif" font-size="16" fill="#000" stroke="none">10</text>
<path d="M546.5,857L551,856.5L570,837.8" fill="none" stroke-width="1.1" />
<text x="580.8" y="861.9" font-family="Liberation Sans, sans-serif" font-size="16" fill="#000" stroke="none">8</text>
<path d="M591,857L595,856L607.5,831.5" fill="none" stroke-width="1.1" />
<text x="617.4" y="861.9" font-family="Liberation Sans, sans-serif" font-size="16" fill="#000" stroke="none">9</text>
<path d="M627.5,857L631,856L635,825" fill="none" stroke-width="1.1" />
<text x="927.7" y="803.4" font-family="Liberation Sans, sans-serif" font-size="16" fill="#000" stroke="none">8</text>
<path d="M921,798.8L916,797.5L878.8,780" fill="none" stroke-width="1.1" />
<text x="959.4" y="803.4" font-family="Liberation Sans, sans-serif" font-size="16" fill="#000" stroke="none">10</text>
<path d="M955,798.8L950,797.5L901,770" fill="none" stroke-width="1.1" />
<text x="993.9" y="791.9" font-family="Liberation Sans, sans-serif" font-size="16" fill="#000" stroke="none">14</text>
<path d="M1016,786L1021,785L1047.5,768.8" fill="none" stroke-width="1.1" />
<text x="1063.1" y="802.4" font-family="Liberation Sans, sans-serif" font-size="16" fill="#000" stroke="none">14</text>
<path d="M1082.5,796.5L1110,800" fill="none" stroke-width="1.1" />
<text x="893" y="931.9" font-family="Liberation Sans, sans-serif" font-size="16" fill="#000" stroke="none">3</text>
<path d="M891,927L886,926L833.8,885" fill="none" stroke-width="1.1" />
<text x="1204.9" y="625.4" font-family="Liberation Sans, sans-serif" font-size="16" fill="#000" stroke="none">12</text>
<path d="M1201,621L1196,622.5L1172.5,628.8" fill="none" stroke-width="1.1" />
<text x="1204.2" y="657.9" font-family="Liberation Sans, sans-serif" font-size="16" fill="#000" stroke="none">11</text>
<path d="M1201,655L1196,656L1138.8,678.8" fill="none" stroke-width="1.1" />
<text x="1187.1" y="700.9" font-family="Liberation Sans, sans-serif" font-size="16" fill="#000" stroke="none">14</text>
<path d="M1207.5,694.5L1211,695.5L1229,723.8" fill="none" stroke-width="1.1" />
<text x="1244.9" y="589.1" font-family="Liberation Sans, sans-serif" font-size="16" fill="#000" stroke="none">11</text>
<path d="M1261,584L1265,585L1294,622.5" fill="none" stroke-width="1.1" />
<text x="1292.5" y="561.6" font-family="Liberation Sans, sans-serif" font-size="16" fill="#000" stroke="none">12</text>
<path d="M1311,555L1315,556L1345,593" fill="none" stroke-width="1.1" />
<text x="1345.8" y="730.4" font-family="Liberation Sans, sans-serif" font-size="16" fill="#000" stroke="none">2</text>
<path d="M1338.8,725.5L1335,726L1296,736" fill="none" stroke-width="1.1" />
<text x="1346.1" y="767.9" font-family="Liberation Sans, sans-serif" font-size="16" fill="#000" stroke="none">12</text>
<path d="M1342.5,763L1338.8,763.8L1320,793.8" fill="none" stroke-width="1.1" />
</g>
</svg>
</body></html>
